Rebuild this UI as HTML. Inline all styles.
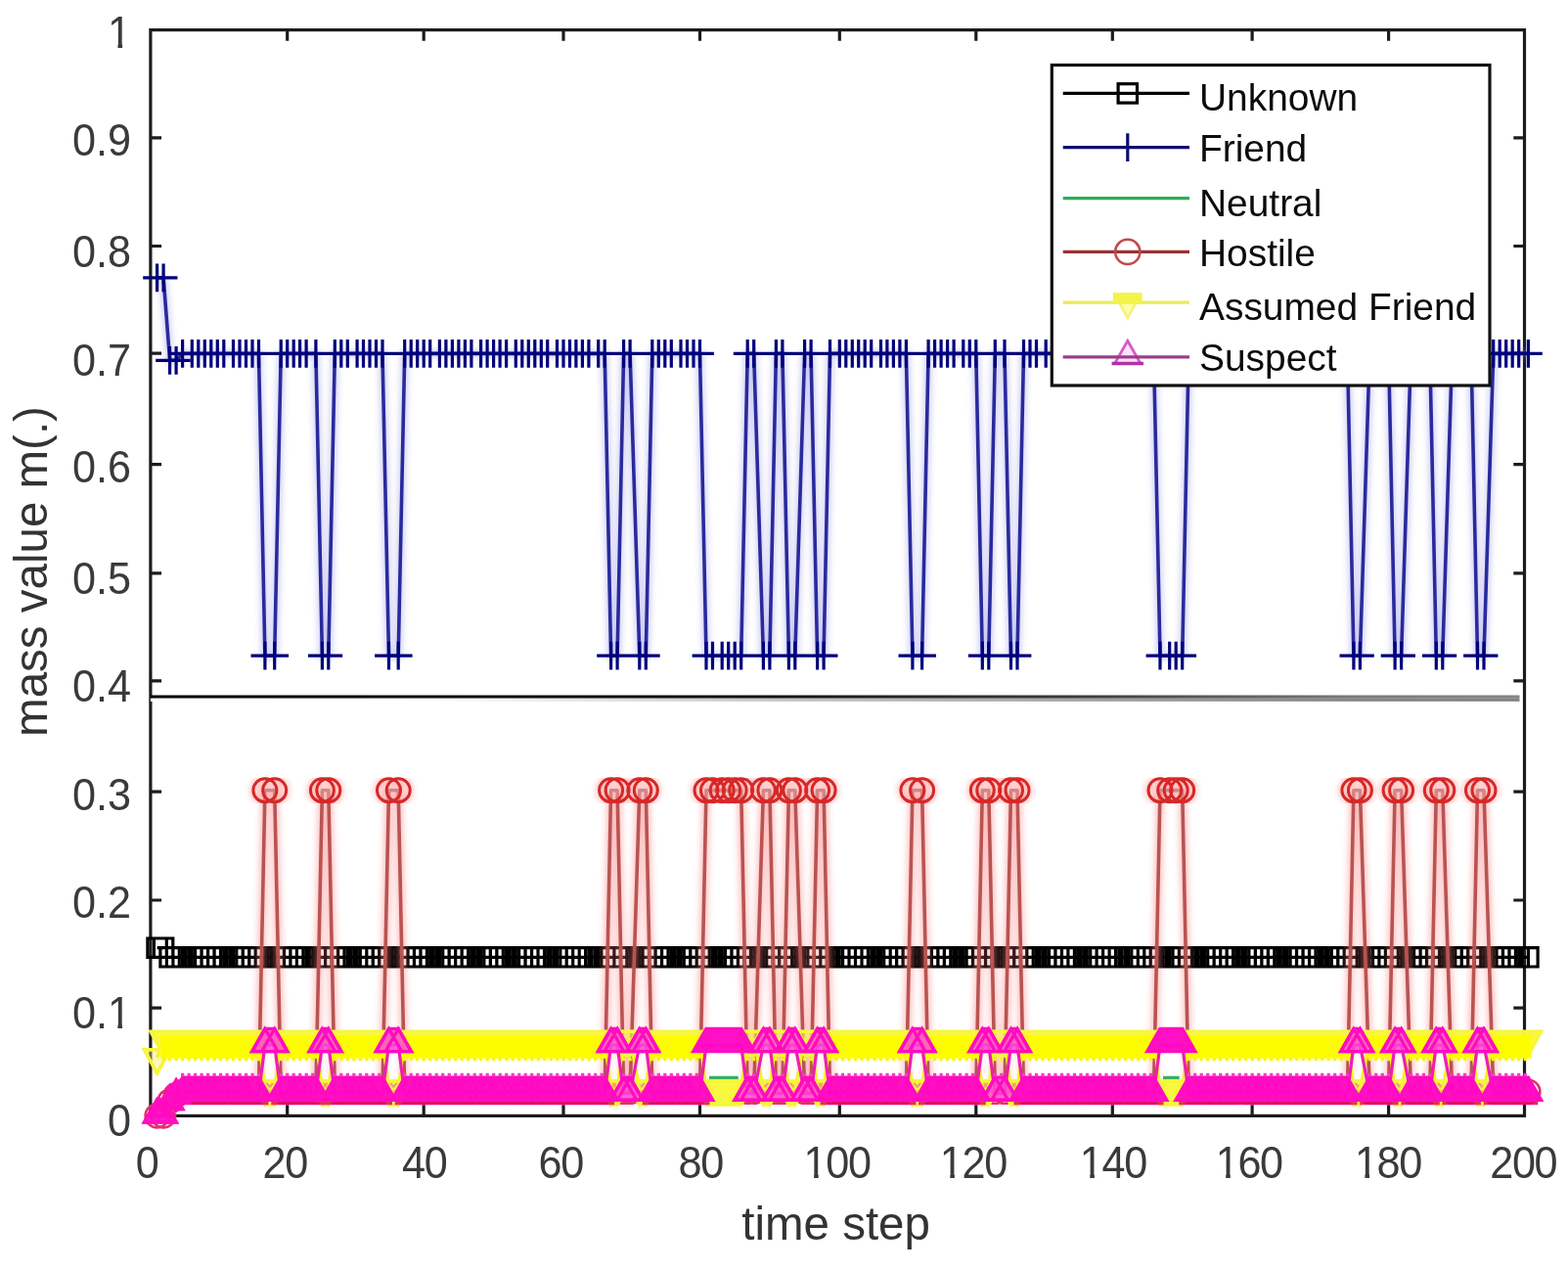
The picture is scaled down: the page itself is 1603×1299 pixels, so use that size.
<!DOCTYPE html>
<html lang="en"><head><meta charset="utf-8"><title>mass value m(.) vs time step</title>
<style>
html,body{margin:0;padding:0;background:#fff;}
body{width:1603px;height:1299px;overflow:hidden;}
svg{display:block;}
text{font-family:"Liberation Sans",Arial,Helvetica,sans-serif;}
.tk{font-size:43.2px;fill:#3a3a3a;}
.lb{font-size:47.5px;fill:#333;}
.lg{font-size:38.9px;fill:#0c0c0c;}
</style></head><body>
<svg width="1603" height="1299" viewBox="0 0 1603 1299">
<defs>
<filter id="halo" x="-2%" y="-2%" width="104%" height="104%"><feGaussianBlur stdDeviation="3"/></filter>
<linearGradient id="annA" gradientUnits="userSpaceOnUse" x1="154" y1="0" x2="1554" y2="0"><stop offset="0" stop-color="#050505"/><stop offset="0.45" stop-color="#141414"/><stop offset="0.68" stop-color="#3c3c3c"/><stop offset="0.88" stop-color="#7a7a7a"/><stop offset="1" stop-color="#858585"/></linearGradient>
<linearGradient id="annB" gradientUnits="userSpaceOnUse" x1="154" y1="0" x2="1554" y2="0"><stop offset="0" stop-color="#fff"/><stop offset="0.2" stop-color="#fff"/><stop offset="0.45" stop-color="#c8c8c8"/><stop offset="0.68" stop-color="#a4a4a4"/><stop offset="0.88" stop-color="#888"/><stop offset="1" stop-color="#858585"/></linearGradient>
</defs>
<rect width="1603" height="1299" fill="#fff"/>
<g>
<g stroke="#1c1c1c" stroke-width="3.2" fill="none" stroke-linecap="butt">
<rect x="153.9" y="30.6" width="1404.6" height="1109.8"/>
<path d="M293.7 1140.4v-11.2M293.7 30.6v11.2M433.2 1140.4v-11.2M433.2 30.6v11.2M576 1140.4v-11.2M576 30.6v11.2M715.5 1140.4v-11.2M715.5 30.6v11.2M858.3 1140.4v-11.2M858.3 30.6v11.2M997.8 1140.4v-11.2M997.8 30.6v11.2M1137.3 1140.4v-11.2M1137.3 30.6v11.2M1280.1 1140.4v-11.2M1280.1 30.6v11.2M1419.6 1140.4v-11.2M1419.6 30.6v11.2M153.9 140.8h11.2M1558.5 140.8h-11.2M153.9 251.5h11.2M1558.5 251.5h-11.2M153.9 361.2h11.2M1558.5 361.2h-11.2M153.9 474.7h11.2M1558.5 474.7h-11.2M153.9 585.8h11.2M1558.5 585.8h-11.2M153.9 695.9h11.2M1558.5 695.9h-11.2M153.9 809.2h11.2M1558.5 809.2h-11.2M153.9 920h11.2M1558.5 920h-11.2M153.9 1030.1h11.2M1558.5 1030.1h-11.2"/>
</g>
<g fill="none" stroke="#000" stroke-width="3.2">
<path d="M160.6 968.7H167.1M173.6 978.3H1562.4"/>
<path d="M150.9 959h19.4v19.4h-19.4zM157.4 959h19.4v19.4h-19.4zM163.9 968.6h19.4v19.4h-19.4zM170.4 968.6h19.4v19.4h-19.4zM176.9 968.6h19.4v19.4h-19.4zM186.6 968.6h19.4v19.4h-19.4zM193.1 968.6h19.4v19.4h-19.4zM199.6 968.6h19.4v19.4h-19.4zM206.1 968.6h19.4v19.4h-19.4zM212.6 968.6h19.4v19.4h-19.4zM219.1 968.6h19.4v19.4h-19.4zM228.8 968.6h19.4v19.4h-19.4zM235.3 968.6h19.4v19.4h-19.4zM241.8 968.6h19.4v19.4h-19.4zM248.3 968.6h19.4v19.4h-19.4zM254.8 968.6h19.4v19.4h-19.4zM261.2 968.6h19.4v19.4h-19.4zM271 968.6h19.4v19.4h-19.4zM277.5 968.6h19.4v19.4h-19.4zM284 968.6h19.4v19.4h-19.4zM290.5 968.6h19.4v19.4h-19.4zM296.9 968.6h19.4v19.4h-19.4zM303.4 968.6h19.4v19.4h-19.4zM313.2 968.6h19.4v19.4h-19.4zM319.7 968.6h19.4v19.4h-19.4zM326.1 968.6h19.4v19.4h-19.4zM332.6 968.6h19.4v19.4h-19.4zM339.1 968.6h19.4v19.4h-19.4zM345.6 968.6h19.4v19.4h-19.4zM355.4 968.6h19.4v19.4h-19.4zM361.8 968.6h19.4v19.4h-19.4zM368.3 968.6h19.4v19.4h-19.4zM374.8 968.6h19.4v19.4h-19.4zM381.3 968.6h19.4v19.4h-19.4zM387.8 968.6h19.4v19.4h-19.4zM397.5 968.6h19.4v19.4h-19.4zM404 968.6h19.4v19.4h-19.4zM410.5 968.6h19.4v19.4h-19.4zM417 968.6h19.4v19.4h-19.4zM423.5 968.6h19.4v19.4h-19.4zM430 968.6h19.4v19.4h-19.4zM439.7 968.6h19.4v19.4h-19.4zM446.2 968.6h19.4v19.4h-19.4zM452.7 968.6h19.4v19.4h-19.4zM459.2 968.6h19.4v19.4h-19.4zM465.7 968.6h19.4v19.4h-19.4zM472.2 968.6h19.4v19.4h-19.4zM481.9 968.6h19.4v19.4h-19.4zM488.4 968.6h19.4v19.4h-19.4zM494.9 968.6h19.4v19.4h-19.4zM501.4 968.6h19.4v19.4h-19.4zM507.9 968.6h19.4v19.4h-19.4zM517.6 968.6h19.4v19.4h-19.4zM524.1 968.6h19.4v19.4h-19.4zM530.6 968.6h19.4v19.4h-19.4zM537.1 968.6h19.4v19.4h-19.4zM543.6 968.6h19.4v19.4h-19.4zM550 968.6h19.4v19.4h-19.4zM559.8 968.6h19.4v19.4h-19.4zM566.3 968.6h19.4v19.4h-19.4zM572.8 968.6h19.4v19.4h-19.4zM579.2 968.6h19.4v19.4h-19.4zM585.7 968.6h19.4v19.4h-19.4zM592.2 968.6h19.4v19.4h-19.4zM602 968.6h19.4v19.4h-19.4zM608.5 968.6h19.4v19.4h-19.4zM614.9 968.6h19.4v19.4h-19.4zM621.4 968.6h19.4v19.4h-19.4zM627.9 968.6h19.4v19.4h-19.4zM634.4 968.6h19.4v19.4h-19.4zM644.1 968.6h19.4v19.4h-19.4zM650.6 968.6h19.4v19.4h-19.4zM657.1 968.6h19.4v19.4h-19.4zM663.6 968.6h19.4v19.4h-19.4zM670.1 968.6h19.4v19.4h-19.4zM676.6 968.6h19.4v19.4h-19.4zM686.3 968.6h19.4v19.4h-19.4zM692.8 968.6h19.4v19.4h-19.4zM699.3 968.6h19.4v19.4h-19.4zM705.8 968.6h19.4v19.4h-19.4zM712.3 968.6h19.4v19.4h-19.4zM718.8 968.6h19.4v19.4h-19.4zM728.5 968.6h19.4v19.4h-19.4zM735 968.6h19.4v19.4h-19.4zM741.5 968.6h19.4v19.4h-19.4zM748 968.6h19.4v19.4h-19.4zM754.5 968.6h19.4v19.4h-19.4zM761 968.6h19.4v19.4h-19.4zM770.7 968.6h19.4v19.4h-19.4zM777.2 968.6h19.4v19.4h-19.4zM783.7 968.6h19.4v19.4h-19.4zM790.2 968.6h19.4v19.4h-19.4zM796.7 968.6h19.4v19.4h-19.4zM803.1 968.6h19.4v19.4h-19.4zM812.9 968.6h19.4v19.4h-19.4zM819.4 968.6h19.4v19.4h-19.4zM825.9 968.6h19.4v19.4h-19.4zM832.4 968.6h19.4v19.4h-19.4zM838.8 968.6h19.4v19.4h-19.4zM848.6 968.6h19.4v19.4h-19.4zM855.1 968.6h19.4v19.4h-19.4zM861.6 968.6h19.4v19.4h-19.4zM868 968.6h19.4v19.4h-19.4zM874.5 968.6h19.4v19.4h-19.4zM881 968.6h19.4v19.4h-19.4zM890.8 968.6h19.4v19.4h-19.4zM897.2 968.6h19.4v19.4h-19.4zM903.7 968.6h19.4v19.4h-19.4zM910.2 968.6h19.4v19.4h-19.4zM916.7 968.6h19.4v19.4h-19.4zM923.2 968.6h19.4v19.4h-19.4zM932.9 968.6h19.4v19.4h-19.4zM939.4 968.6h19.4v19.4h-19.4zM945.9 968.6h19.4v19.4h-19.4zM952.4 968.6h19.4v19.4h-19.4zM958.9 968.6h19.4v19.4h-19.4zM965.4 968.6h19.4v19.4h-19.4zM975.1 968.6h19.4v19.4h-19.4zM981.6 968.6h19.4v19.4h-19.4zM988.1 968.6h19.4v19.4h-19.4zM994.6 968.6h19.4v19.4h-19.4zM1001.1 968.6h19.4v19.4h-19.4zM1007.6 968.6h19.4v19.4h-19.4zM1017.3 968.6h19.4v19.4h-19.4zM1023.8 968.6h19.4v19.4h-19.4zM1030.3 968.6h19.4v19.4h-19.4zM1036.8 968.6h19.4v19.4h-19.4zM1043.3 968.6h19.4v19.4h-19.4zM1049.8 968.6h19.4v19.4h-19.4zM1059.5 968.6h19.4v19.4h-19.4zM1066 968.6h19.4v19.4h-19.4zM1072.5 968.6h19.4v19.4h-19.4zM1079 968.6h19.4v19.4h-19.4zM1085.5 968.6h19.4v19.4h-19.4zM1091.9 968.6h19.4v19.4h-19.4zM1101.7 968.6h19.4v19.4h-19.4zM1108.2 968.6h19.4v19.4h-19.4zM1114.7 968.6h19.4v19.4h-19.4zM1121.1 968.6h19.4v19.4h-19.4zM1127.6 968.6h19.4v19.4h-19.4zM1134.1 968.6h19.4v19.4h-19.4zM1143.9 968.6h19.4v19.4h-19.4zM1150.4 968.6h19.4v19.4h-19.4zM1156.8 968.6h19.4v19.4h-19.4zM1163.3 968.6h19.4v19.4h-19.4zM1169.8 968.6h19.4v19.4h-19.4zM1176.3 968.6h19.4v19.4h-19.4zM1186 968.6h19.4v19.4h-19.4zM1192.5 968.6h19.4v19.4h-19.4zM1199 968.6h19.4v19.4h-19.4zM1205.5 968.6h19.4v19.4h-19.4zM1212 968.6h19.4v19.4h-19.4zM1221.7 968.6h19.4v19.4h-19.4zM1228.2 968.6h19.4v19.4h-19.4zM1234.7 968.6h19.4v19.4h-19.4zM1241.2 968.6h19.4v19.4h-19.4zM1247.7 968.6h19.4v19.4h-19.4zM1254.2 968.6h19.4v19.4h-19.4zM1263.9 968.6h19.4v19.4h-19.4zM1270.4 968.6h19.4v19.4h-19.4zM1276.9 968.6h19.4v19.4h-19.4zM1283.4 968.6h19.4v19.4h-19.4zM1289.9 968.6h19.4v19.4h-19.4zM1296.4 968.6h19.4v19.4h-19.4zM1306.1 968.6h19.4v19.4h-19.4zM1312.6 968.6h19.4v19.4h-19.4zM1319.1 968.6h19.4v19.4h-19.4zM1325.6 968.6h19.4v19.4h-19.4zM1332.1 968.6h19.4v19.4h-19.4zM1338.6 968.6h19.4v19.4h-19.4zM1348.3 968.6h19.4v19.4h-19.4zM1354.8 968.6h19.4v19.4h-19.4zM1361.3 968.6h19.4v19.4h-19.4zM1367.8 968.6h19.4v19.4h-19.4zM1374.2 968.6h19.4v19.4h-19.4zM1380.7 968.6h19.4v19.4h-19.4zM1390.5 968.6h19.4v19.4h-19.4zM1397 968.6h19.4v19.4h-19.4zM1403.5 968.6h19.4v19.4h-19.4zM1409.9 968.6h19.4v19.4h-19.4zM1416.4 968.6h19.4v19.4h-19.4zM1422.9 968.6h19.4v19.4h-19.4zM1432.7 968.6h19.4v19.4h-19.4zM1439.1 968.6h19.4v19.4h-19.4zM1445.6 968.6h19.4v19.4h-19.4zM1452.1 968.6h19.4v19.4h-19.4zM1458.6 968.6h19.4v19.4h-19.4zM1465.1 968.6h19.4v19.4h-19.4zM1474.8 968.6h19.4v19.4h-19.4zM1481.3 968.6h19.4v19.4h-19.4zM1487.8 968.6h19.4v19.4h-19.4zM1494.3 968.6h19.4v19.4h-19.4zM1500.8 968.6h19.4v19.4h-19.4zM1507.3 968.6h19.4v19.4h-19.4zM1517 968.6h19.4v19.4h-19.4zM1523.5 968.6h19.4v19.4h-19.4zM1530 968.6h19.4v19.4h-19.4zM1536.5 968.6h19.4v19.4h-19.4zM1543 968.6h19.4v19.4h-19.4zM1552.7 968.6h19.4v19.4h-19.4z"/>
</g>
<g fill="none">
<polyline points="160.6,283.9 167.1,283.9 173.6,368.3 180.1,368.3 186.6,361.4 196.3,361.4 202.8,361.4 209.3,361.4 215.8,361.4 222.3,361.4 228.8,361.4 238.5,361.4 245,361.4 251.5,361.4 258,361.4 264.5,361.4 270.9,670.2 280.7,670.2 287.2,361.4 293.7,361.4 300.2,361.4 306.6,361.4 313.1,361.4 322.9,361.4 329.4,670.2 335.8,670.2 342.3,361.4 348.8,361.4 355.3,361.4 365.1,361.4 371.5,361.4 378,361.4 384.5,361.4 391,361.4 397.5,670.2 407.2,670.2 413.7,361.4 420.2,361.4 426.7,361.4 433.2,361.4 439.7,361.4 449.4,361.4 455.9,361.4 462.4,361.4 468.9,361.4 475.4,361.4 481.9,361.4 491.6,361.4 498.1,361.4 504.6,361.4 511.1,361.4 517.6,361.4 527.3,361.4 533.8,361.4 540.3,361.4 546.8,361.4 553.3,361.4 559.7,361.4 569.5,361.4 576,361.4 582.5,361.4 588.9,361.4 595.4,361.4 601.9,361.4 611.7,361.4 618.2,361.4 624.6,670.2 631.1,670.2 637.6,361.4 644.1,361.4 653.8,670.2 660.3,670.2 666.8,361.4 673.3,361.4 679.8,361.4 686.3,361.4 696,361.4 702.5,361.4 709,361.4 715.5,361.4 722,670.2 728.5,670.2 738.2,670.2 744.7,670.2 751.2,670.2 757.7,670.2 764.2,361.4 770.7,361.4 780.4,670.2 786.9,670.2 793.4,361.4 799.9,361.4 806.4,670.2 812.8,670.2 822.6,361.4 829.1,361.4 835.6,670.2 842.1,670.2 848.5,361.4 858.3,361.4 864.8,361.4 871.3,361.4 877.7,361.4 884.2,361.4 890.7,361.4 900.5,361.4 906.9,361.4 913.4,361.4 919.9,361.4 926.4,361.4 932.9,670.2 942.6,670.2 949.1,361.4 955.6,361.4 962.1,361.4 968.6,361.4 975.1,361.4 984.8,361.4 991.3,361.4 997.8,361.4 1004.3,670.2 1010.8,670.2 1017.3,361.4 1027,361.4 1033.5,670.2 1040,670.2 1046.5,361.4 1053,361.4 1059.5,361.4 1069.2,361.4 1075.7,361.4 1082.2,361.4 1088.7,361.4 1095.2,361.4 1101.6,361.4 1111.4,361.4 1117.9,361.4 1124.4,361.4 1130.8,361.4 1137.3,361.4 1143.8,361.4 1153.6,361.4 1160.1,361.4 1166.5,361.4 1173,361.4 1179.5,361.4 1186,670.2 1195.7,670.2 1202.2,670.2 1208.7,670.2 1215.2,361.4 1221.7,361.4 1231.4,361.4 1237.9,361.4 1244.4,361.4 1250.9,361.4 1257.4,361.4 1263.9,361.4 1273.6,361.4 1280.1,361.4 1286.6,361.4 1293.1,361.4 1299.6,361.4 1306.1,361.4 1315.8,361.4 1322.3,361.4 1328.8,361.4 1335.3,361.4 1341.8,361.4 1348.3,361.4 1358,361.4 1364.5,361.4 1371,361.4 1377.5,361.4 1383.9,670.2 1390.4,670.2 1400.2,361.4 1406.7,361.4 1413.2,361.4 1419.6,361.4 1426.1,670.2 1432.6,670.2 1442.4,361.4 1448.8,361.4 1455.3,361.4 1461.8,361.4 1468.3,670.2 1474.8,670.2 1484.5,361.4 1491,361.4 1497.5,361.4 1504,361.4 1510.5,670.2 1517,670.2 1526.7,361.4 1533.2,361.4 1539.7,361.4 1546.2,361.4 1552.7,361.4 1562.4,361.4" stroke="#8a8ae6" stroke-width="7" opacity="0.45" filter="url(#halo)"/>
<polyline points="160.6,283.9 167.1,283.9 173.6,368.3 180.1,368.3 186.6,361.4 196.3,361.4 202.8,361.4 209.3,361.4 215.8,361.4 222.3,361.4 228.8,361.4 238.5,361.4 245,361.4 251.5,361.4 258,361.4 264.5,361.4 270.9,670.2 280.7,670.2 287.2,361.4 293.7,361.4 300.2,361.4 306.6,361.4 313.1,361.4 322.9,361.4 329.4,670.2 335.8,670.2 342.3,361.4 348.8,361.4 355.3,361.4 365.1,361.4 371.5,361.4 378,361.4 384.5,361.4 391,361.4 397.5,670.2 407.2,670.2 413.7,361.4 420.2,361.4 426.7,361.4 433.2,361.4 439.7,361.4 449.4,361.4 455.9,361.4 462.4,361.4 468.9,361.4 475.4,361.4 481.9,361.4 491.6,361.4 498.1,361.4 504.6,361.4 511.1,361.4 517.6,361.4 527.3,361.4 533.8,361.4 540.3,361.4 546.8,361.4 553.3,361.4 559.7,361.4 569.5,361.4 576,361.4 582.5,361.4 588.9,361.4 595.4,361.4 601.9,361.4 611.7,361.4 618.2,361.4 624.6,670.2 631.1,670.2 637.6,361.4 644.1,361.4 653.8,670.2 660.3,670.2 666.8,361.4 673.3,361.4 679.8,361.4 686.3,361.4 696,361.4 702.5,361.4 709,361.4 715.5,361.4 722,670.2 728.5,670.2 738.2,670.2 744.7,670.2 751.2,670.2 757.7,670.2 764.2,361.4 770.7,361.4 780.4,670.2 786.9,670.2 793.4,361.4 799.9,361.4 806.4,670.2 812.8,670.2 822.6,361.4 829.1,361.4 835.6,670.2 842.1,670.2 848.5,361.4 858.3,361.4 864.8,361.4 871.3,361.4 877.7,361.4 884.2,361.4 890.7,361.4 900.5,361.4 906.9,361.4 913.4,361.4 919.9,361.4 926.4,361.4 932.9,670.2 942.6,670.2 949.1,361.4 955.6,361.4 962.1,361.4 968.6,361.4 975.1,361.4 984.8,361.4 991.3,361.4 997.8,361.4 1004.3,670.2 1010.8,670.2 1017.3,361.4 1027,361.4 1033.5,670.2 1040,670.2 1046.5,361.4 1053,361.4 1059.5,361.4 1069.2,361.4 1075.7,361.4 1082.2,361.4 1088.7,361.4 1095.2,361.4 1101.6,361.4 1111.4,361.4 1117.9,361.4 1124.4,361.4 1130.8,361.4 1137.3,361.4 1143.8,361.4 1153.6,361.4 1160.1,361.4 1166.5,361.4 1173,361.4 1179.5,361.4 1186,670.2 1195.7,670.2 1202.2,670.2 1208.7,670.2 1215.2,361.4 1221.7,361.4 1231.4,361.4 1237.9,361.4 1244.4,361.4 1250.9,361.4 1257.4,361.4 1263.9,361.4 1273.6,361.4 1280.1,361.4 1286.6,361.4 1293.1,361.4 1299.6,361.4 1306.1,361.4 1315.8,361.4 1322.3,361.4 1328.8,361.4 1335.3,361.4 1341.8,361.4 1348.3,361.4 1358,361.4 1364.5,361.4 1371,361.4 1377.5,361.4 1383.9,670.2 1390.4,670.2 1400.2,361.4 1406.7,361.4 1413.2,361.4 1419.6,361.4 1426.1,670.2 1432.6,670.2 1442.4,361.4 1448.8,361.4 1455.3,361.4 1461.8,361.4 1468.3,670.2 1474.8,670.2 1484.5,361.4 1491,361.4 1497.5,361.4 1504,361.4 1510.5,670.2 1517,670.2 1526.7,361.4 1533.2,361.4 1539.7,361.4 1546.2,361.4 1552.7,361.4 1562.4,361.4" stroke="#2a2a9c" stroke-width="3.6" stroke-linejoin="round"/>
<path d="M146.2 283.9h28.8M160.6 269.5v28.8M152.7 283.9h28.8M167.1 269.5v28.8M159.2 368.3h28.8M173.6 353.9v28.8M165.7 368.3h28.8M180.1 353.9v28.8M172.2 361.4h28.8M186.6 347v28.8M181.9 361.4h28.8M196.3 347v28.8M188.4 361.4h28.8M202.8 347v28.8M194.9 361.4h28.8M209.3 347v28.8M201.4 361.4h28.8M215.8 347v28.8M207.9 361.4h28.8M222.3 347v28.8M214.4 361.4h28.8M228.8 347v28.8M224.1 361.4h28.8M238.5 347v28.8M230.6 361.4h28.8M245 347v28.8M237.1 361.4h28.8M251.5 347v28.8M243.6 361.4h28.8M258 347v28.8M250.1 361.4h28.8M264.5 347v28.8M256.5 670.2h28.8M270.9 655.8v28.8M266.3 670.2h28.8M280.7 655.8v28.8M272.8 361.4h28.8M287.2 347v28.8M279.3 361.4h28.8M293.7 347v28.8M285.8 361.4h28.8M300.2 347v28.8M292.2 361.4h28.8M306.6 347v28.8M298.7 361.4h28.8M313.1 347v28.8M308.5 361.4h28.8M322.9 347v28.8M315 670.2h28.8M329.4 655.8v28.8M321.4 670.2h28.8M335.8 655.8v28.8M327.9 361.4h28.8M342.3 347v28.8M334.4 361.4h28.8M348.8 347v28.8M340.9 361.4h28.8M355.3 347v28.8M350.7 361.4h28.8M365.1 347v28.8M357.1 361.4h28.8M371.5 347v28.8M363.6 361.4h28.8M378 347v28.8M370.1 361.4h28.8M384.5 347v28.8M376.6 361.4h28.8M391 347v28.8M383.1 670.2h28.8M397.5 655.8v28.8M392.8 670.2h28.8M407.2 655.8v28.8M399.3 361.4h28.8M413.7 347v28.8M405.8 361.4h28.8M420.2 347v28.8M412.3 361.4h28.8M426.7 347v28.8M418.8 361.4h28.8M433.2 347v28.8M425.3 361.4h28.8M439.7 347v28.8M435 361.4h28.8M449.4 347v28.8M441.5 361.4h28.8M455.9 347v28.8M448 361.4h28.8M462.4 347v28.8M454.5 361.4h28.8M468.9 347v28.8M461 361.4h28.8M475.4 347v28.8M467.5 361.4h28.8M481.9 347v28.8M477.2 361.4h28.8M491.6 347v28.8M483.7 361.4h28.8M498.1 347v28.8M490.2 361.4h28.8M504.6 347v28.8M496.7 361.4h28.8M511.1 347v28.8M503.2 361.4h28.8M517.6 347v28.8M512.9 361.4h28.8M527.3 347v28.8M519.4 361.4h28.8M533.8 347v28.8M525.9 361.4h28.8M540.3 347v28.8M532.4 361.4h28.8M546.8 347v28.8M538.9 361.4h28.8M553.3 347v28.8M545.3 361.4h28.8M559.7 347v28.8M555.1 361.4h28.8M569.5 347v28.8M561.6 361.4h28.8M576 347v28.8M568.1 361.4h28.8M582.5 347v28.8M574.5 361.4h28.8M588.9 347v28.8M581 361.4h28.8M595.4 347v28.8M587.5 361.4h28.8M601.9 347v28.8M597.3 361.4h28.8M611.7 347v28.8M603.8 361.4h28.8M618.2 347v28.8M610.2 670.2h28.8M624.6 655.8v28.8M616.7 670.2h28.8M631.1 655.8v28.8M623.2 361.4h28.8M637.6 347v28.8M629.7 361.4h28.8M644.1 347v28.8M639.4 670.2h28.8M653.8 655.8v28.8M645.9 670.2h28.8M660.3 655.8v28.8M652.4 361.4h28.8M666.8 347v28.8M658.9 361.4h28.8M673.3 347v28.8M665.4 361.4h28.8M679.8 347v28.8M671.9 361.4h28.8M686.3 347v28.8M681.6 361.4h28.8M696 347v28.8M688.1 361.4h28.8M702.5 347v28.8M694.6 361.4h28.8M709 347v28.8M701.1 361.4h28.8M715.5 347v28.8M707.6 670.2h28.8M722 655.8v28.8M714.1 670.2h28.8M728.5 655.8v28.8M723.8 670.2h28.8M738.2 655.8v28.8M730.3 670.2h28.8M744.7 655.8v28.8M736.8 670.2h28.8M751.2 655.8v28.8M743.3 670.2h28.8M757.7 655.8v28.8M749.8 361.4h28.8M764.2 347v28.8M756.3 361.4h28.8M770.7 347v28.8M766 670.2h28.8M780.4 655.8v28.8M772.5 670.2h28.8M786.9 655.8v28.8M779 361.4h28.8M793.4 347v28.8M785.5 361.4h28.8M799.9 347v28.8M792 670.2h28.8M806.4 655.8v28.8M798.4 670.2h28.8M812.8 655.8v28.8M808.2 361.4h28.8M822.6 347v28.8M814.7 361.4h28.8M829.1 347v28.8M821.2 670.2h28.8M835.6 655.8v28.8M827.7 670.2h28.8M842.1 655.8v28.8M834.1 361.4h28.8M848.5 347v28.8M843.9 361.4h28.8M858.3 347v28.8M850.4 361.4h28.8M864.8 347v28.8M856.9 361.4h28.8M871.3 347v28.8M863.3 361.4h28.8M877.7 347v28.8M869.8 361.4h28.8M884.2 347v28.8M876.3 361.4h28.8M890.7 347v28.8M886.1 361.4h28.8M900.5 347v28.8M892.5 361.4h28.8M906.9 347v28.8M899 361.4h28.8M913.4 347v28.8M905.5 361.4h28.8M919.9 347v28.8M912 361.4h28.8M926.4 347v28.8M918.5 670.2h28.8M932.9 655.8v28.8M928.2 670.2h28.8M942.6 655.8v28.8M934.7 361.4h28.8M949.1 347v28.8M941.2 361.4h28.8M955.6 347v28.8M947.7 361.4h28.8M962.1 347v28.8M954.2 361.4h28.8M968.6 347v28.8M960.7 361.4h28.8M975.1 347v28.8M970.4 361.4h28.8M984.8 347v28.8M976.9 361.4h28.8M991.3 347v28.8M983.4 361.4h28.8M997.8 347v28.8M989.9 670.2h28.8M1004.3 655.8v28.8M996.4 670.2h28.8M1010.8 655.8v28.8M1002.9 361.4h28.8M1017.3 347v28.8M1012.6 361.4h28.8M1027 347v28.8M1019.1 670.2h28.8M1033.5 655.8v28.8M1025.6 670.2h28.8M1040 655.8v28.8M1032.1 361.4h28.8M1046.5 347v28.8M1038.6 361.4h28.8M1053 347v28.8M1045.1 361.4h28.8M1059.5 347v28.8M1054.8 361.4h28.8M1069.2 347v28.8M1061.3 361.4h28.8M1075.7 347v28.8M1067.8 361.4h28.8M1082.2 347v28.8M1074.3 361.4h28.8M1088.7 347v28.8M1080.8 361.4h28.8M1095.2 347v28.8M1087.2 361.4h28.8M1101.6 347v28.8M1097 361.4h28.8M1111.4 347v28.8M1103.5 361.4h28.8M1117.9 347v28.8M1110 361.4h28.8M1124.4 347v28.8M1116.4 361.4h28.8M1130.8 347v28.8M1122.9 361.4h28.8M1137.3 347v28.8M1129.4 361.4h28.8M1143.8 347v28.8M1139.2 361.4h28.8M1153.6 347v28.8M1145.7 361.4h28.8M1160.1 347v28.8M1152.1 361.4h28.8M1166.5 347v28.8M1158.6 361.4h28.8M1173 347v28.8M1165.1 361.4h28.8M1179.5 347v28.8M1171.6 670.2h28.8M1186 655.8v28.8M1181.3 670.2h28.8M1195.7 655.8v28.8M1187.8 670.2h28.8M1202.2 655.8v28.8M1194.3 670.2h28.8M1208.7 655.8v28.8M1200.8 361.4h28.8M1215.2 347v28.8M1207.3 361.4h28.8M1221.7 347v28.8M1217 361.4h28.8M1231.4 347v28.8M1223.5 361.4h28.8M1237.9 347v28.8M1230 361.4h28.8M1244.4 347v28.8M1236.5 361.4h28.8M1250.9 347v28.8M1243 361.4h28.8M1257.4 347v28.8M1249.5 361.4h28.8M1263.9 347v28.8M1259.2 361.4h28.8M1273.6 347v28.8M1265.7 361.4h28.8M1280.1 347v28.8M1272.2 361.4h28.8M1286.6 347v28.8M1278.7 361.4h28.8M1293.1 347v28.8M1285.2 361.4h28.8M1299.6 347v28.8M1291.7 361.4h28.8M1306.1 347v28.8M1301.4 361.4h28.8M1315.8 347v28.8M1307.9 361.4h28.8M1322.3 347v28.8M1314.4 361.4h28.8M1328.8 347v28.8M1320.9 361.4h28.8M1335.3 347v28.8M1327.4 361.4h28.8M1341.8 347v28.8M1333.9 361.4h28.8M1348.3 347v28.8M1343.6 361.4h28.8M1358 347v28.8M1350.1 361.4h28.8M1364.5 347v28.8M1356.6 361.4h28.8M1371 347v28.8M1363.1 361.4h28.8M1377.5 347v28.8M1369.5 670.2h28.8M1383.9 655.8v28.8M1376 670.2h28.8M1390.4 655.8v28.8M1385.8 361.4h28.8M1400.2 347v28.8M1392.3 361.4h28.8M1406.7 347v28.8M1398.8 361.4h28.8M1413.2 347v28.8M1405.2 361.4h28.8M1419.6 347v28.8M1411.7 670.2h28.8M1426.1 655.8v28.8M1418.2 670.2h28.8M1432.6 655.8v28.8M1428 361.4h28.8M1442.4 347v28.8M1434.4 361.4h28.8M1448.8 347v28.8M1440.9 361.4h28.8M1455.3 347v28.8M1447.4 361.4h28.8M1461.8 347v28.8M1453.9 670.2h28.8M1468.3 655.8v28.8M1460.4 670.2h28.8M1474.8 655.8v28.8M1470.1 361.4h28.8M1484.5 347v28.8M1476.6 361.4h28.8M1491 347v28.8M1483.1 361.4h28.8M1497.5 347v28.8M1489.6 361.4h28.8M1504 347v28.8M1496.1 670.2h28.8M1510.5 655.8v28.8M1502.6 670.2h28.8M1517 655.8v28.8M1512.3 361.4h28.8M1526.7 347v28.8M1518.8 361.4h28.8M1533.2 347v28.8M1525.3 361.4h28.8M1539.7 347v28.8M1531.8 361.4h28.8M1546.2 347v28.8M1538.3 361.4h28.8M1552.7 347v28.8M1548 361.4h28.8M1562.4 347v28.8" stroke="#00007c" stroke-width="3.2"/>
</g>
<path d="M725 1101.4H754.7M1189 1101.4H1205.7" fill="none" stroke="#8af0a8" stroke-width="9" opacity="0.6" filter="url(#halo)" transform="translate(0 -2)"/>
<path d="M725 1101.4H754.7M1189 1101.4H1205.7" fill="none" stroke="#35b25c" stroke-width="3.2"/>
<g fill="none">
<polyline points="160.6,1140.4 167.1,1140.4 173.6,1125.5 180.1,1119 186.6,1115.8 196.3,1115.8 202.8,1115.8 209.3,1115.8 215.8,1115.8 222.3,1115.8 228.8,1115.8 238.5,1115.8 245,1115.8 251.5,1115.8 258,1115.8 264.5,1115.8 270.9,807.7 280.7,807.7 287.2,1115.8 293.7,1115.8 300.2,1115.8 306.6,1115.8 313.1,1115.8 322.9,1115.8 329.4,807.7 335.8,807.7 342.3,1115.8 348.8,1115.8 355.3,1115.8 365.1,1115.8 371.5,1115.8 378,1115.8 384.5,1115.8 391,1115.8 397.5,807.7 407.2,807.7 413.7,1115.8 420.2,1115.8 426.7,1115.8 433.2,1115.8 439.7,1115.8 449.4,1115.8 455.9,1115.8 462.4,1115.8 468.9,1115.8 475.4,1115.8 481.9,1115.8 491.6,1115.8 498.1,1115.8 504.6,1115.8 511.1,1115.8 517.6,1115.8 527.3,1115.8 533.8,1115.8 540.3,1115.8 546.8,1115.8 553.3,1115.8 559.7,1115.8 569.5,1115.8 576,1115.8 582.5,1115.8 588.9,1115.8 595.4,1115.8 601.9,1115.8 611.7,1115.8 618.2,1115.8 624.6,807.7 631.1,807.7 637.6,1115.8 644.1,1115.8 653.8,807.7 660.3,807.7 666.8,1115.8 673.3,1115.8 679.8,1115.8 686.3,1115.8 696,1115.8 702.5,1115.8 709,1115.8 715.5,1115.8 722,807.7 728.5,807.7 738.2,807.7 744.7,807.7 751.2,807.7 757.7,807.7 764.2,1115.8 770.7,1115.8 780.4,807.7 786.9,807.7 793.4,1115.8 799.9,1115.8 806.4,807.7 812.8,807.7 822.6,1115.8 829.1,1115.8 835.6,807.7 842.1,807.7 848.5,1115.8 858.3,1115.8 864.8,1115.8 871.3,1115.8 877.7,1115.8 884.2,1115.8 890.7,1115.8 900.5,1115.8 906.9,1115.8 913.4,1115.8 919.9,1115.8 926.4,1115.8 932.9,807.7 942.6,807.7 949.1,1115.8 955.6,1115.8 962.1,1115.8 968.6,1115.8 975.1,1115.8 984.8,1115.8 991.3,1115.8 997.8,1115.8 1004.3,807.7 1010.8,807.7 1017.3,1115.8 1027,1115.8 1033.5,807.7 1040,807.7 1046.5,1115.8 1053,1115.8 1059.5,1115.8 1069.2,1115.8 1075.7,1115.8 1082.2,1115.8 1088.7,1115.8 1095.2,1115.8 1101.6,1115.8 1111.4,1115.8 1117.9,1115.8 1124.4,1115.8 1130.8,1115.8 1137.3,1115.8 1143.8,1115.8 1153.6,1115.8 1160.1,1115.8 1166.5,1115.8 1173,1115.8 1179.5,1115.8 1186,807.7 1195.7,807.7 1202.2,807.7 1208.7,807.7 1215.2,1115.8 1221.7,1115.8 1231.4,1115.8 1237.9,1115.8 1244.4,1115.8 1250.9,1115.8 1257.4,1115.8 1263.9,1115.8 1273.6,1115.8 1280.1,1115.8 1286.6,1115.8 1293.1,1115.8 1299.6,1115.8 1306.1,1115.8 1315.8,1115.8 1322.3,1115.8 1328.8,1115.8 1335.3,1115.8 1341.8,1115.8 1348.3,1115.8 1358,1115.8 1364.5,1115.8 1371,1115.8 1377.5,1115.8 1383.9,807.7 1390.4,807.7 1400.2,1115.8 1406.7,1115.8 1413.2,1115.8 1419.6,1115.8 1426.1,807.7 1432.6,807.7 1442.4,1115.8 1448.8,1115.8 1455.3,1115.8 1461.8,1115.8 1468.3,807.7 1474.8,807.7 1484.5,1115.8 1491,1115.8 1497.5,1115.8 1504,1115.8 1510.5,807.7 1517,807.7 1526.7,1115.8 1533.2,1115.8 1539.7,1115.8 1546.2,1115.8 1552.7,1115.8 1562.4,1115.8" stroke="#ff8080" stroke-width="8" opacity="0.5" filter="url(#halo)"/>
<path d="M258.9 807.7a12 12 0 1 0 24 0a12 12 0 1 0 -24 0zM268.7 807.7a12 12 0 1 0 24 0a12 12 0 1 0 -24 0zM317.4 807.7a12 12 0 1 0 24 0a12 12 0 1 0 -24 0zM323.8 807.7a12 12 0 1 0 24 0a12 12 0 1 0 -24 0zM385.5 807.7a12 12 0 1 0 24 0a12 12 0 1 0 -24 0zM395.2 807.7a12 12 0 1 0 24 0a12 12 0 1 0 -24 0zM612.6 807.7a12 12 0 1 0 24 0a12 12 0 1 0 -24 0zM619.1 807.7a12 12 0 1 0 24 0a12 12 0 1 0 -24 0zM641.8 807.7a12 12 0 1 0 24 0a12 12 0 1 0 -24 0zM648.3 807.7a12 12 0 1 0 24 0a12 12 0 1 0 -24 0zM710 807.7a12 12 0 1 0 24 0a12 12 0 1 0 -24 0zM716.5 807.7a12 12 0 1 0 24 0a12 12 0 1 0 -24 0zM726.2 807.7a12 12 0 1 0 24 0a12 12 0 1 0 -24 0zM732.7 807.7a12 12 0 1 0 24 0a12 12 0 1 0 -24 0zM739.2 807.7a12 12 0 1 0 24 0a12 12 0 1 0 -24 0zM745.7 807.7a12 12 0 1 0 24 0a12 12 0 1 0 -24 0zM768.4 807.7a12 12 0 1 0 24 0a12 12 0 1 0 -24 0zM774.9 807.7a12 12 0 1 0 24 0a12 12 0 1 0 -24 0zM794.4 807.7a12 12 0 1 0 24 0a12 12 0 1 0 -24 0zM800.8 807.7a12 12 0 1 0 24 0a12 12 0 1 0 -24 0zM823.6 807.7a12 12 0 1 0 24 0a12 12 0 1 0 -24 0zM830.1 807.7a12 12 0 1 0 24 0a12 12 0 1 0 -24 0zM920.9 807.7a12 12 0 1 0 24 0a12 12 0 1 0 -24 0zM930.6 807.7a12 12 0 1 0 24 0a12 12 0 1 0 -24 0zM992.3 807.7a12 12 0 1 0 24 0a12 12 0 1 0 -24 0zM998.8 807.7a12 12 0 1 0 24 0a12 12 0 1 0 -24 0zM1021.5 807.7a12 12 0 1 0 24 0a12 12 0 1 0 -24 0zM1028 807.7a12 12 0 1 0 24 0a12 12 0 1 0 -24 0zM1174 807.7a12 12 0 1 0 24 0a12 12 0 1 0 -24 0zM1183.7 807.7a12 12 0 1 0 24 0a12 12 0 1 0 -24 0zM1190.2 807.7a12 12 0 1 0 24 0a12 12 0 1 0 -24 0zM1196.7 807.7a12 12 0 1 0 24 0a12 12 0 1 0 -24 0zM1371.9 807.7a12 12 0 1 0 24 0a12 12 0 1 0 -24 0zM1378.4 807.7a12 12 0 1 0 24 0a12 12 0 1 0 -24 0zM1414.1 807.7a12 12 0 1 0 24 0a12 12 0 1 0 -24 0zM1420.6 807.7a12 12 0 1 0 24 0a12 12 0 1 0 -24 0zM1456.3 807.7a12 12 0 1 0 24 0a12 12 0 1 0 -24 0zM1462.8 807.7a12 12 0 1 0 24 0a12 12 0 1 0 -24 0zM1498.5 807.7a12 12 0 1 0 24 0a12 12 0 1 0 -24 0zM1505 807.7a12 12 0 1 0 24 0a12 12 0 1 0 -24 0z" stroke="#ff7a7a" stroke-width="6" opacity="0.5" filter="url(#halo)"/>
<polyline points="160.6,1140.4 167.1,1140.4 173.6,1125.5 180.1,1119 186.6,1115.8 196.3,1115.8 202.8,1115.8 209.3,1115.8 215.8,1115.8 222.3,1115.8 228.8,1115.8 238.5,1115.8 245,1115.8 251.5,1115.8 258,1115.8 264.5,1115.8 270.9,807.7 280.7,807.7 287.2,1115.8 293.7,1115.8 300.2,1115.8 306.6,1115.8 313.1,1115.8 322.9,1115.8 329.4,807.7 335.8,807.7 342.3,1115.8 348.8,1115.8 355.3,1115.8 365.1,1115.8 371.5,1115.8 378,1115.8 384.5,1115.8 391,1115.8 397.5,807.7 407.2,807.7 413.7,1115.8 420.2,1115.8 426.7,1115.8 433.2,1115.8 439.7,1115.8 449.4,1115.8 455.9,1115.8 462.4,1115.8 468.9,1115.8 475.4,1115.8 481.9,1115.8 491.6,1115.8 498.1,1115.8 504.6,1115.8 511.1,1115.8 517.6,1115.8 527.3,1115.8 533.8,1115.8 540.3,1115.8 546.8,1115.8 553.3,1115.8 559.7,1115.8 569.5,1115.8 576,1115.8 582.5,1115.8 588.9,1115.8 595.4,1115.8 601.9,1115.8 611.7,1115.8 618.2,1115.8 624.6,807.7 631.1,807.7 637.6,1115.8 644.1,1115.8 653.8,807.7 660.3,807.7 666.8,1115.8 673.3,1115.8 679.8,1115.8 686.3,1115.8 696,1115.8 702.5,1115.8 709,1115.8 715.5,1115.8 722,807.7 728.5,807.7 738.2,807.7 744.7,807.7 751.2,807.7 757.7,807.7 764.2,1115.8 770.7,1115.8 780.4,807.7 786.9,807.7 793.4,1115.8 799.9,1115.8 806.4,807.7 812.8,807.7 822.6,1115.8 829.1,1115.8 835.6,807.7 842.1,807.7 848.5,1115.8 858.3,1115.8 864.8,1115.8 871.3,1115.8 877.7,1115.8 884.2,1115.8 890.7,1115.8 900.5,1115.8 906.9,1115.8 913.4,1115.8 919.9,1115.8 926.4,1115.8 932.9,807.7 942.6,807.7 949.1,1115.8 955.6,1115.8 962.1,1115.8 968.6,1115.8 975.1,1115.8 984.8,1115.8 991.3,1115.8 997.8,1115.8 1004.3,807.7 1010.8,807.7 1017.3,1115.8 1027,1115.8 1033.5,807.7 1040,807.7 1046.5,1115.8 1053,1115.8 1059.5,1115.8 1069.2,1115.8 1075.7,1115.8 1082.2,1115.8 1088.7,1115.8 1095.2,1115.8 1101.6,1115.8 1111.4,1115.8 1117.9,1115.8 1124.4,1115.8 1130.8,1115.8 1137.3,1115.8 1143.8,1115.8 1153.6,1115.8 1160.1,1115.8 1166.5,1115.8 1173,1115.8 1179.5,1115.8 1186,807.7 1195.7,807.7 1202.2,807.7 1208.7,807.7 1215.2,1115.8 1221.7,1115.8 1231.4,1115.8 1237.9,1115.8 1244.4,1115.8 1250.9,1115.8 1257.4,1115.8 1263.9,1115.8 1273.6,1115.8 1280.1,1115.8 1286.6,1115.8 1293.1,1115.8 1299.6,1115.8 1306.1,1115.8 1315.8,1115.8 1322.3,1115.8 1328.8,1115.8 1335.3,1115.8 1341.8,1115.8 1348.3,1115.8 1358,1115.8 1364.5,1115.8 1371,1115.8 1377.5,1115.8 1383.9,807.7 1390.4,807.7 1400.2,1115.8 1406.7,1115.8 1413.2,1115.8 1419.6,1115.8 1426.1,807.7 1432.6,807.7 1442.4,1115.8 1448.8,1115.8 1455.3,1115.8 1461.8,1115.8 1468.3,807.7 1474.8,807.7 1484.5,1115.8 1491,1115.8 1497.5,1115.8 1504,1115.8 1510.5,807.7 1517,807.7 1526.7,1115.8 1533.2,1115.8 1539.7,1115.8 1546.2,1115.8 1552.7,1115.8 1562.4,1115.8" stroke="#b85452" stroke-width="3.6" stroke-linejoin="round"/>
<path d="M148.6 1140.4a12 12 0 1 0 24 0a12 12 0 1 0 -24 0zM155.1 1140.4a12 12 0 1 0 24 0a12 12 0 1 0 -24 0zM161.6 1125.5a12 12 0 1 0 24 0a12 12 0 1 0 -24 0zM168.1 1119a12 12 0 1 0 24 0a12 12 0 1 0 -24 0zM174.6 1115.8a12 12 0 1 0 24 0a12 12 0 1 0 -24 0zM184.3 1115.8a12 12 0 1 0 24 0a12 12 0 1 0 -24 0zM190.8 1115.8a12 12 0 1 0 24 0a12 12 0 1 0 -24 0zM197.3 1115.8a12 12 0 1 0 24 0a12 12 0 1 0 -24 0zM203.8 1115.8a12 12 0 1 0 24 0a12 12 0 1 0 -24 0zM210.3 1115.8a12 12 0 1 0 24 0a12 12 0 1 0 -24 0zM216.8 1115.8a12 12 0 1 0 24 0a12 12 0 1 0 -24 0zM226.5 1115.8a12 12 0 1 0 24 0a12 12 0 1 0 -24 0zM233 1115.8a12 12 0 1 0 24 0a12 12 0 1 0 -24 0zM239.5 1115.8a12 12 0 1 0 24 0a12 12 0 1 0 -24 0zM246 1115.8a12 12 0 1 0 24 0a12 12 0 1 0 -24 0zM252.5 1115.8a12 12 0 1 0 24 0a12 12 0 1 0 -24 0zM275.2 1115.8a12 12 0 1 0 24 0a12 12 0 1 0 -24 0zM281.7 1115.8a12 12 0 1 0 24 0a12 12 0 1 0 -24 0zM288.2 1115.8a12 12 0 1 0 24 0a12 12 0 1 0 -24 0zM294.6 1115.8a12 12 0 1 0 24 0a12 12 0 1 0 -24 0zM301.1 1115.8a12 12 0 1 0 24 0a12 12 0 1 0 -24 0zM310.9 1115.8a12 12 0 1 0 24 0a12 12 0 1 0 -24 0zM330.3 1115.8a12 12 0 1 0 24 0a12 12 0 1 0 -24 0zM336.8 1115.8a12 12 0 1 0 24 0a12 12 0 1 0 -24 0zM343.3 1115.8a12 12 0 1 0 24 0a12 12 0 1 0 -24 0zM353.1 1115.8a12 12 0 1 0 24 0a12 12 0 1 0 -24 0zM359.5 1115.8a12 12 0 1 0 24 0a12 12 0 1 0 -24 0zM366 1115.8a12 12 0 1 0 24 0a12 12 0 1 0 -24 0zM372.5 1115.8a12 12 0 1 0 24 0a12 12 0 1 0 -24 0zM379 1115.8a12 12 0 1 0 24 0a12 12 0 1 0 -24 0zM401.7 1115.8a12 12 0 1 0 24 0a12 12 0 1 0 -24 0zM408.2 1115.8a12 12 0 1 0 24 0a12 12 0 1 0 -24 0zM414.7 1115.8a12 12 0 1 0 24 0a12 12 0 1 0 -24 0zM421.2 1115.8a12 12 0 1 0 24 0a12 12 0 1 0 -24 0zM427.7 1115.8a12 12 0 1 0 24 0a12 12 0 1 0 -24 0zM437.4 1115.8a12 12 0 1 0 24 0a12 12 0 1 0 -24 0zM443.9 1115.8a12 12 0 1 0 24 0a12 12 0 1 0 -24 0zM450.4 1115.8a12 12 0 1 0 24 0a12 12 0 1 0 -24 0zM456.9 1115.8a12 12 0 1 0 24 0a12 12 0 1 0 -24 0zM463.4 1115.8a12 12 0 1 0 24 0a12 12 0 1 0 -24 0zM469.9 1115.8a12 12 0 1 0 24 0a12 12 0 1 0 -24 0zM479.6 1115.8a12 12 0 1 0 24 0a12 12 0 1 0 -24 0zM486.1 1115.8a12 12 0 1 0 24 0a12 12 0 1 0 -24 0zM492.6 1115.8a12 12 0 1 0 24 0a12 12 0 1 0 -24 0zM499.1 1115.8a12 12 0 1 0 24 0a12 12 0 1 0 -24 0zM505.6 1115.8a12 12 0 1 0 24 0a12 12 0 1 0 -24 0zM515.3 1115.8a12 12 0 1 0 24 0a12 12 0 1 0 -24 0zM521.8 1115.8a12 12 0 1 0 24 0a12 12 0 1 0 -24 0zM528.3 1115.8a12 12 0 1 0 24 0a12 12 0 1 0 -24 0zM534.8 1115.8a12 12 0 1 0 24 0a12 12 0 1 0 -24 0zM541.3 1115.8a12 12 0 1 0 24 0a12 12 0 1 0 -24 0zM547.7 1115.8a12 12 0 1 0 24 0a12 12 0 1 0 -24 0zM557.5 1115.8a12 12 0 1 0 24 0a12 12 0 1 0 -24 0zM564 1115.8a12 12 0 1 0 24 0a12 12 0 1 0 -24 0zM570.5 1115.8a12 12 0 1 0 24 0a12 12 0 1 0 -24 0zM576.9 1115.8a12 12 0 1 0 24 0a12 12 0 1 0 -24 0zM583.4 1115.8a12 12 0 1 0 24 0a12 12 0 1 0 -24 0zM589.9 1115.8a12 12 0 1 0 24 0a12 12 0 1 0 -24 0zM599.7 1115.8a12 12 0 1 0 24 0a12 12 0 1 0 -24 0zM606.2 1115.8a12 12 0 1 0 24 0a12 12 0 1 0 -24 0zM625.6 1115.8a12 12 0 1 0 24 0a12 12 0 1 0 -24 0zM632.1 1115.8a12 12 0 1 0 24 0a12 12 0 1 0 -24 0zM654.8 1115.8a12 12 0 1 0 24 0a12 12 0 1 0 -24 0zM661.3 1115.8a12 12 0 1 0 24 0a12 12 0 1 0 -24 0zM667.8 1115.8a12 12 0 1 0 24 0a12 12 0 1 0 -24 0zM674.3 1115.8a12 12 0 1 0 24 0a12 12 0 1 0 -24 0zM684 1115.8a12 12 0 1 0 24 0a12 12 0 1 0 -24 0zM690.5 1115.8a12 12 0 1 0 24 0a12 12 0 1 0 -24 0zM697 1115.8a12 12 0 1 0 24 0a12 12 0 1 0 -24 0zM703.5 1115.8a12 12 0 1 0 24 0a12 12 0 1 0 -24 0zM752.2 1115.8a12 12 0 1 0 24 0a12 12 0 1 0 -24 0zM758.7 1115.8a12 12 0 1 0 24 0a12 12 0 1 0 -24 0zM781.4 1115.8a12 12 0 1 0 24 0a12 12 0 1 0 -24 0zM787.9 1115.8a12 12 0 1 0 24 0a12 12 0 1 0 -24 0zM810.6 1115.8a12 12 0 1 0 24 0a12 12 0 1 0 -24 0zM817.1 1115.8a12 12 0 1 0 24 0a12 12 0 1 0 -24 0zM836.5 1115.8a12 12 0 1 0 24 0a12 12 0 1 0 -24 0zM846.3 1115.8a12 12 0 1 0 24 0a12 12 0 1 0 -24 0zM852.8 1115.8a12 12 0 1 0 24 0a12 12 0 1 0 -24 0zM859.3 1115.8a12 12 0 1 0 24 0a12 12 0 1 0 -24 0zM865.7 1115.8a12 12 0 1 0 24 0a12 12 0 1 0 -24 0zM872.2 1115.8a12 12 0 1 0 24 0a12 12 0 1 0 -24 0zM878.7 1115.8a12 12 0 1 0 24 0a12 12 0 1 0 -24 0zM888.5 1115.8a12 12 0 1 0 24 0a12 12 0 1 0 -24 0zM894.9 1115.8a12 12 0 1 0 24 0a12 12 0 1 0 -24 0zM901.4 1115.8a12 12 0 1 0 24 0a12 12 0 1 0 -24 0zM907.9 1115.8a12 12 0 1 0 24 0a12 12 0 1 0 -24 0zM914.4 1115.8a12 12 0 1 0 24 0a12 12 0 1 0 -24 0zM937.1 1115.8a12 12 0 1 0 24 0a12 12 0 1 0 -24 0zM943.6 1115.8a12 12 0 1 0 24 0a12 12 0 1 0 -24 0zM950.1 1115.8a12 12 0 1 0 24 0a12 12 0 1 0 -24 0zM956.6 1115.8a12 12 0 1 0 24 0a12 12 0 1 0 -24 0zM963.1 1115.8a12 12 0 1 0 24 0a12 12 0 1 0 -24 0zM972.8 1115.8a12 12 0 1 0 24 0a12 12 0 1 0 -24 0zM979.3 1115.8a12 12 0 1 0 24 0a12 12 0 1 0 -24 0zM985.8 1115.8a12 12 0 1 0 24 0a12 12 0 1 0 -24 0zM1005.3 1115.8a12 12 0 1 0 24 0a12 12 0 1 0 -24 0zM1015 1115.8a12 12 0 1 0 24 0a12 12 0 1 0 -24 0zM1034.5 1115.8a12 12 0 1 0 24 0a12 12 0 1 0 -24 0zM1041 1115.8a12 12 0 1 0 24 0a12 12 0 1 0 -24 0zM1047.5 1115.8a12 12 0 1 0 24 0a12 12 0 1 0 -24 0zM1057.2 1115.8a12 12 0 1 0 24 0a12 12 0 1 0 -24 0zM1063.7 1115.8a12 12 0 1 0 24 0a12 12 0 1 0 -24 0zM1070.2 1115.8a12 12 0 1 0 24 0a12 12 0 1 0 -24 0zM1076.7 1115.8a12 12 0 1 0 24 0a12 12 0 1 0 -24 0zM1083.2 1115.8a12 12 0 1 0 24 0a12 12 0 1 0 -24 0zM1089.6 1115.8a12 12 0 1 0 24 0a12 12 0 1 0 -24 0zM1099.4 1115.8a12 12 0 1 0 24 0a12 12 0 1 0 -24 0zM1105.9 1115.8a12 12 0 1 0 24 0a12 12 0 1 0 -24 0zM1112.4 1115.8a12 12 0 1 0 24 0a12 12 0 1 0 -24 0zM1118.8 1115.8a12 12 0 1 0 24 0a12 12 0 1 0 -24 0zM1125.3 1115.8a12 12 0 1 0 24 0a12 12 0 1 0 -24 0zM1131.8 1115.8a12 12 0 1 0 24 0a12 12 0 1 0 -24 0zM1141.6 1115.8a12 12 0 1 0 24 0a12 12 0 1 0 -24 0zM1148.1 1115.8a12 12 0 1 0 24 0a12 12 0 1 0 -24 0zM1154.5 1115.8a12 12 0 1 0 24 0a12 12 0 1 0 -24 0zM1161 1115.8a12 12 0 1 0 24 0a12 12 0 1 0 -24 0zM1167.5 1115.8a12 12 0 1 0 24 0a12 12 0 1 0 -24 0zM1203.2 1115.8a12 12 0 1 0 24 0a12 12 0 1 0 -24 0zM1209.7 1115.8a12 12 0 1 0 24 0a12 12 0 1 0 -24 0zM1219.4 1115.8a12 12 0 1 0 24 0a12 12 0 1 0 -24 0zM1225.9 1115.8a12 12 0 1 0 24 0a12 12 0 1 0 -24 0zM1232.4 1115.8a12 12 0 1 0 24 0a12 12 0 1 0 -24 0zM1238.9 1115.8a12 12 0 1 0 24 0a12 12 0 1 0 -24 0zM1245.4 1115.8a12 12 0 1 0 24 0a12 12 0 1 0 -24 0zM1251.9 1115.8a12 12 0 1 0 24 0a12 12 0 1 0 -24 0zM1261.6 1115.8a12 12 0 1 0 24 0a12 12 0 1 0 -24 0zM1268.1 1115.8a12 12 0 1 0 24 0a12 12 0 1 0 -24 0zM1274.6 1115.8a12 12 0 1 0 24 0a12 12 0 1 0 -24 0zM1281.1 1115.8a12 12 0 1 0 24 0a12 12 0 1 0 -24 0zM1287.6 1115.8a12 12 0 1 0 24 0a12 12 0 1 0 -24 0zM1294.1 1115.8a12 12 0 1 0 24 0a12 12 0 1 0 -24 0zM1303.8 1115.8a12 12 0 1 0 24 0a12 12 0 1 0 -24 0zM1310.3 1115.8a12 12 0 1 0 24 0a12 12 0 1 0 -24 0zM1316.8 1115.8a12 12 0 1 0 24 0a12 12 0 1 0 -24 0zM1323.3 1115.8a12 12 0 1 0 24 0a12 12 0 1 0 -24 0zM1329.8 1115.8a12 12 0 1 0 24 0a12 12 0 1 0 -24 0zM1336.3 1115.8a12 12 0 1 0 24 0a12 12 0 1 0 -24 0zM1346 1115.8a12 12 0 1 0 24 0a12 12 0 1 0 -24 0zM1352.5 1115.8a12 12 0 1 0 24 0a12 12 0 1 0 -24 0zM1359 1115.8a12 12 0 1 0 24 0a12 12 0 1 0 -24 0zM1365.5 1115.8a12 12 0 1 0 24 0a12 12 0 1 0 -24 0zM1388.2 1115.8a12 12 0 1 0 24 0a12 12 0 1 0 -24 0zM1394.7 1115.8a12 12 0 1 0 24 0a12 12 0 1 0 -24 0zM1401.2 1115.8a12 12 0 1 0 24 0a12 12 0 1 0 -24 0zM1407.6 1115.8a12 12 0 1 0 24 0a12 12 0 1 0 -24 0zM1430.4 1115.8a12 12 0 1 0 24 0a12 12 0 1 0 -24 0zM1436.8 1115.8a12 12 0 1 0 24 0a12 12 0 1 0 -24 0zM1443.3 1115.8a12 12 0 1 0 24 0a12 12 0 1 0 -24 0zM1449.8 1115.8a12 12 0 1 0 24 0a12 12 0 1 0 -24 0zM1472.5 1115.8a12 12 0 1 0 24 0a12 12 0 1 0 -24 0zM1479 1115.8a12 12 0 1 0 24 0a12 12 0 1 0 -24 0zM1485.5 1115.8a12 12 0 1 0 24 0a12 12 0 1 0 -24 0zM1492 1115.8a12 12 0 1 0 24 0a12 12 0 1 0 -24 0zM1514.7 1115.8a12 12 0 1 0 24 0a12 12 0 1 0 -24 0zM1521.2 1115.8a12 12 0 1 0 24 0a12 12 0 1 0 -24 0zM1527.7 1115.8a12 12 0 1 0 24 0a12 12 0 1 0 -24 0zM1534.2 1115.8a12 12 0 1 0 24 0a12 12 0 1 0 -24 0zM1540.7 1115.8a12 12 0 1 0 24 0a12 12 0 1 0 -24 0zM1550.4 1115.8a12 12 0 1 0 24 0a12 12 0 1 0 -24 0z" stroke="#e4306c" stroke-width="2.6"/>
<path d="M258.9 807.7a12 12 0 1 0 24 0a12 12 0 1 0 -24 0zM268.7 807.7a12 12 0 1 0 24 0a12 12 0 1 0 -24 0zM317.4 807.7a12 12 0 1 0 24 0a12 12 0 1 0 -24 0zM323.8 807.7a12 12 0 1 0 24 0a12 12 0 1 0 -24 0zM385.5 807.7a12 12 0 1 0 24 0a12 12 0 1 0 -24 0zM395.2 807.7a12 12 0 1 0 24 0a12 12 0 1 0 -24 0zM612.6 807.7a12 12 0 1 0 24 0a12 12 0 1 0 -24 0zM619.1 807.7a12 12 0 1 0 24 0a12 12 0 1 0 -24 0zM641.8 807.7a12 12 0 1 0 24 0a12 12 0 1 0 -24 0zM648.3 807.7a12 12 0 1 0 24 0a12 12 0 1 0 -24 0zM710 807.7a12 12 0 1 0 24 0a12 12 0 1 0 -24 0zM716.5 807.7a12 12 0 1 0 24 0a12 12 0 1 0 -24 0zM726.2 807.7a12 12 0 1 0 24 0a12 12 0 1 0 -24 0zM732.7 807.7a12 12 0 1 0 24 0a12 12 0 1 0 -24 0zM739.2 807.7a12 12 0 1 0 24 0a12 12 0 1 0 -24 0zM745.7 807.7a12 12 0 1 0 24 0a12 12 0 1 0 -24 0zM768.4 807.7a12 12 0 1 0 24 0a12 12 0 1 0 -24 0zM774.9 807.7a12 12 0 1 0 24 0a12 12 0 1 0 -24 0zM794.4 807.7a12 12 0 1 0 24 0a12 12 0 1 0 -24 0zM800.8 807.7a12 12 0 1 0 24 0a12 12 0 1 0 -24 0zM823.6 807.7a12 12 0 1 0 24 0a12 12 0 1 0 -24 0zM830.1 807.7a12 12 0 1 0 24 0a12 12 0 1 0 -24 0zM920.9 807.7a12 12 0 1 0 24 0a12 12 0 1 0 -24 0zM930.6 807.7a12 12 0 1 0 24 0a12 12 0 1 0 -24 0zM992.3 807.7a12 12 0 1 0 24 0a12 12 0 1 0 -24 0zM998.8 807.7a12 12 0 1 0 24 0a12 12 0 1 0 -24 0zM1021.5 807.7a12 12 0 1 0 24 0a12 12 0 1 0 -24 0zM1028 807.7a12 12 0 1 0 24 0a12 12 0 1 0 -24 0zM1174 807.7a12 12 0 1 0 24 0a12 12 0 1 0 -24 0zM1183.7 807.7a12 12 0 1 0 24 0a12 12 0 1 0 -24 0zM1190.2 807.7a12 12 0 1 0 24 0a12 12 0 1 0 -24 0zM1196.7 807.7a12 12 0 1 0 24 0a12 12 0 1 0 -24 0zM1371.9 807.7a12 12 0 1 0 24 0a12 12 0 1 0 -24 0zM1378.4 807.7a12 12 0 1 0 24 0a12 12 0 1 0 -24 0zM1414.1 807.7a12 12 0 1 0 24 0a12 12 0 1 0 -24 0zM1420.6 807.7a12 12 0 1 0 24 0a12 12 0 1 0 -24 0zM1456.3 807.7a12 12 0 1 0 24 0a12 12 0 1 0 -24 0zM1462.8 807.7a12 12 0 1 0 24 0a12 12 0 1 0 -24 0zM1498.5 807.7a12 12 0 1 0 24 0a12 12 0 1 0 -24 0zM1505 807.7a12 12 0 1 0 24 0a12 12 0 1 0 -24 0z" stroke="#d62828" stroke-width="3" fill="#ffd0d0" fill-opacity="0.4"/>
</g>
<polyline points="160.6,1081 167.1,1062.5 173.6,1062.5 180.1,1062.5 186.6,1062.5 196.3,1062.5 202.8,1062.5 209.3,1062.5 215.8,1062.5 222.3,1062.5 228.8,1062.5 238.5,1062.5 245,1062.5 251.5,1062.5 258,1062.5 264.5,1062.5 270.9,1113 280.7,1113 287.2,1062.5 293.7,1062.5 300.2,1062.5 306.6,1062.5 313.1,1062.5 322.9,1062.5 329.4,1113 335.8,1113 342.3,1062.5 348.8,1062.5 355.3,1062.5 365.1,1062.5 371.5,1062.5 378,1062.5 384.5,1062.5 391,1062.5 397.5,1113 407.2,1113 413.7,1062.5 420.2,1062.5 426.7,1062.5 433.2,1062.5 439.7,1062.5 449.4,1062.5 455.9,1062.5 462.4,1062.5 468.9,1062.5 475.4,1062.5 481.9,1062.5 491.6,1062.5 498.1,1062.5 504.6,1062.5 511.1,1062.5 517.6,1062.5 527.3,1062.5 533.8,1062.5 540.3,1062.5 546.8,1062.5 553.3,1062.5 559.7,1062.5 569.5,1062.5 576,1062.5 582.5,1062.5 588.9,1062.5 595.4,1062.5 601.9,1062.5 611.7,1062.5 618.2,1062.5 624.6,1113 631.1,1113 637.6,1062.5 644.1,1062.5 653.8,1113 660.3,1113 666.8,1062.5 673.3,1062.5 679.8,1062.5 686.3,1062.5 696,1062.5 702.5,1062.5 709,1062.5 715.5,1062.5 722,1113 728.5,1113 738.2,1113 744.7,1113 751.2,1113 757.7,1113 764.2,1062.5 770.7,1062.5 780.4,1113 786.9,1113 793.4,1062.5 799.9,1062.5 806.4,1113 812.8,1113 822.6,1062.5 829.1,1062.5 835.6,1113 842.1,1113 848.5,1062.5 858.3,1062.5 864.8,1062.5 871.3,1062.5 877.7,1062.5 884.2,1062.5 890.7,1062.5 900.5,1062.5 906.9,1062.5 913.4,1062.5 919.9,1062.5 926.4,1062.5 932.9,1113 942.6,1113 949.1,1062.5 955.6,1062.5 962.1,1062.5 968.6,1062.5 975.1,1062.5 984.8,1062.5 991.3,1062.5 997.8,1062.5 1004.3,1113 1010.8,1113 1017.3,1062.5 1027,1062.5 1033.5,1113 1040,1113 1046.5,1062.5 1053,1062.5 1059.5,1062.5 1069.2,1062.5 1075.7,1062.5 1082.2,1062.5 1088.7,1062.5 1095.2,1062.5 1101.6,1062.5 1111.4,1062.5 1117.9,1062.5 1124.4,1062.5 1130.8,1062.5 1137.3,1062.5 1143.8,1062.5 1153.6,1062.5 1160.1,1062.5 1166.5,1062.5 1173,1062.5 1179.5,1062.5 1186,1113 1195.7,1113 1202.2,1113 1208.7,1113 1215.2,1062.5 1221.7,1062.5 1231.4,1062.5 1237.9,1062.5 1244.4,1062.5 1250.9,1062.5 1257.4,1062.5 1263.9,1062.5 1273.6,1062.5 1280.1,1062.5 1286.6,1062.5 1293.1,1062.5 1299.6,1062.5 1306.1,1062.5 1315.8,1062.5 1322.3,1062.5 1328.8,1062.5 1335.3,1062.5 1341.8,1062.5 1348.3,1062.5 1358,1062.5 1364.5,1062.5 1371,1062.5 1377.5,1062.5 1383.9,1113 1390.4,1113 1400.2,1062.5 1406.7,1062.5 1413.2,1062.5 1419.6,1062.5 1426.1,1113 1432.6,1113 1442.4,1062.5 1448.8,1062.5 1455.3,1062.5 1461.8,1062.5 1468.3,1113 1474.8,1113 1484.5,1062.5 1491,1062.5 1497.5,1062.5 1504,1062.5 1510.5,1113 1517,1113 1526.7,1062.5 1533.2,1062.5 1539.7,1062.5 1546.2,1062.5 1552.7,1062.5 1562.4,1062.5" fill="none" stroke="#f4f420" stroke-width="3.2"/>
<path d="M147.4 1072.8L173.8 1072.8L160.6 1097L160.6 1097z" fill="#f9ec58" fill-opacity="0.413" stroke="#f6f63c" stroke-width="3.4" stroke-linejoin="miter"/>
<path d="M257.7 1104.8L293.9 1104.8L280.7 1129L270.9 1129zM316.2 1104.8L349 1104.8L335.8 1129L329.4 1129zM384.3 1104.8L420.4 1104.8L407.2 1129L397.5 1129zM611.4 1104.8L644.3 1104.8L631.1 1129L624.6 1129zM624.4 1054.3L657.3 1054.3L644.1 1078.5L637.6 1078.5zM640.6 1104.8L673.5 1104.8L660.3 1129L653.8 1129zM751 1054.3L783.9 1054.3L770.7 1078.5L764.2 1078.5zM767.2 1104.8L800.1 1104.8L786.9 1129L780.4 1129zM780.2 1054.3L813.1 1054.3L799.9 1078.5L793.4 1078.5zM793.2 1104.8L826 1104.8L812.8 1129L806.4 1129zM809.4 1054.3L842.3 1054.3L829.1 1078.5L822.6 1078.5zM822.4 1104.8L855.3 1104.8L842.1 1129L835.6 1129zM919.7 1104.8L955.8 1104.8L942.6 1129L932.9 1129zM991.1 1104.8L1024 1104.8L1010.8 1129L1004.3 1129zM1004.1 1054.3L1040.2 1054.3L1027 1078.5L1017.3 1078.5zM1020.3 1104.8L1053.2 1104.8L1040 1129L1033.5 1129zM1370.7 1104.8L1403.6 1104.8L1390.4 1129L1383.9 1129zM1412.9 1104.8L1445.8 1104.8L1432.6 1129L1426.1 1129zM1455.1 1104.8L1488 1104.8L1474.8 1129L1468.3 1129zM1497.3 1104.8L1530.2 1104.8L1517 1129L1510.5 1129z" fill="#f9ec58" fill-opacity="0.637" stroke="#f6f63c" stroke-width="3.4" stroke-linejoin="miter"/>
<path d="M153.9 1054.3L277.7 1054.3L264.5 1078.5L167.1 1078.5zM274 1054.3L336.1 1054.3L322.9 1078.5L287.2 1078.5zM329.1 1054.3L404.2 1054.3L391 1078.5L342.3 1078.5zM400.5 1054.3L631.4 1054.3L618.2 1078.5L413.7 1078.5zM653.6 1054.3L728.7 1054.3L715.5 1078.5L666.8 1078.5zM708.8 1104.8L770.9 1104.8L757.7 1129L722 1129zM835.3 1054.3L939.6 1054.3L926.4 1078.5L848.5 1078.5zM935.9 1054.3L1011 1054.3L997.8 1078.5L949.1 1078.5zM1033.3 1054.3L1192.7 1054.3L1179.5 1078.5L1046.5 1078.5zM1172.8 1104.8L1221.9 1104.8L1208.7 1129L1186 1129zM1202 1054.3L1390.7 1054.3L1377.5 1078.5L1215.2 1078.5zM1387 1054.3L1432.8 1054.3L1419.6 1078.5L1400.2 1078.5zM1429.2 1054.3L1475 1054.3L1461.8 1078.5L1442.4 1078.5zM1471.3 1054.3L1517.2 1054.3L1504 1078.5L1484.5 1078.5zM1513.5 1054.3L1575.6 1054.3L1562.4 1078.5L1526.7 1078.5z" fill="#f8f83a" fill-opacity="0.97" stroke="#f6f63c" stroke-width="3.4" stroke-linejoin="miter"/>
<path d="M160.6 1097L173.8 1072.8L147.4 1072.8zM270.9 1129L284.1 1104.8L257.7 1104.8zM280.7 1129L293.9 1104.8L267.5 1104.8zM329.4 1129L342.6 1104.8L316.2 1104.8zM335.8 1129L349 1104.8L322.6 1104.8zM397.5 1129L410.7 1104.8L384.3 1104.8zM407.2 1129L420.4 1104.8L394 1104.8zM624.6 1129L637.8 1104.8L611.4 1104.8zM631.1 1129L644.3 1104.8L617.9 1104.8zM637.6 1078.5L650.8 1054.3L624.4 1054.3zM644.1 1078.5L657.3 1054.3L630.9 1054.3zM653.8 1129L667 1104.8L640.6 1104.8zM660.3 1129L673.5 1104.8L647.1 1104.8zM764.2 1078.5L777.4 1054.3L751 1054.3zM770.7 1078.5L783.9 1054.3L757.5 1054.3zM780.4 1129L793.6 1104.8L767.2 1104.8zM786.9 1129L800.1 1104.8L773.7 1104.8zM793.4 1078.5L806.6 1054.3L780.2 1054.3zM799.9 1078.5L813.1 1054.3L786.7 1054.3zM806.4 1129L819.6 1104.8L793.2 1104.8zM812.8 1129L826 1104.8L799.6 1104.8zM822.6 1078.5L835.8 1054.3L809.4 1054.3zM829.1 1078.5L842.3 1054.3L815.9 1054.3zM835.6 1129L848.8 1104.8L822.4 1104.8zM842.1 1129L855.3 1104.8L828.9 1104.8zM932.9 1129L946.1 1104.8L919.7 1104.8zM942.6 1129L955.8 1104.8L929.4 1104.8zM1004.3 1129L1017.5 1104.8L991.1 1104.8zM1010.8 1129L1024 1104.8L997.6 1104.8zM1017.3 1078.5L1030.5 1054.3L1004.1 1054.3zM1027 1078.5L1040.2 1054.3L1013.8 1054.3zM1033.5 1129L1046.7 1104.8L1020.3 1104.8zM1040 1129L1053.2 1104.8L1026.8 1104.8zM1383.9 1129L1397.1 1104.8L1370.7 1104.8zM1390.4 1129L1403.6 1104.8L1377.2 1104.8zM1426.1 1129L1439.3 1104.8L1412.9 1104.8zM1432.6 1129L1445.8 1104.8L1419.4 1104.8zM1468.3 1129L1481.5 1104.8L1455.1 1104.8zM1474.8 1129L1488 1104.8L1461.6 1104.8zM1510.5 1129L1523.7 1104.8L1497.3 1104.8zM1517 1129L1530.2 1104.8L1503.8 1104.8z" fill="none" stroke="#f6f63c" stroke-width="3.2" stroke-linejoin="miter"/>
<path d="M164.1 1058.2H267.5V1081.8H164.1zM284.2 1058.2H325.9V1081.8H284.2zM339.3 1058.2H394V1081.8H339.3zM410.7 1058.2H621.2V1081.8H410.7zM663.8 1058.2H718.5V1081.8H663.8zM845.5 1058.2H929.4V1081.8H845.5zM946.1 1058.2H1000.8V1081.8H946.1zM1043.5 1058.2H1182.5V1081.8H1043.5zM1212.2 1058.2H1380.5V1081.8H1212.2zM1397.2 1058.2H1422.6V1081.8H1397.2zM1439.4 1058.2H1464.8V1081.8H1439.4zM1481.5 1058.2H1507V1081.8H1481.5zM1523.7 1058.2H1565.4V1081.8H1523.7z" fill="#fdfd00" fill-opacity="1" stroke="none"/>
<path d="M165.5 1082.6H266.1M285.6 1082.6H324.5M340.7 1082.6H392.6M412.1 1082.6H619.8M636 1082.6H645.7M665.2 1082.6H717.1M762.6 1082.6H772.3M791.8 1082.6H801.5M821 1082.6H830.7M846.9 1082.6H928M947.5 1082.6H999.4M1015.7 1082.6H1028.6M1044.9 1082.6H1181.1M1213.6 1082.6H1379.1M1398.6 1082.6H1421.2M1440.8 1082.6H1463.4M1482.9 1082.6H1505.6M1525.1 1082.6H1564" fill="none" stroke="#f4f41e" stroke-width="3.2" stroke-dasharray="3.25 3.25"/>
<path d="M176.6 1125.8H274.5V1129.3H176.6zM277.2 1125.8H332.9V1129.3H277.2zM332.3 1125.8H401V1129.3H332.3zM403.7 1125.8H628.2V1129.3H403.7zM656.8 1125.8H725.5V1129.3H656.8zM838.5 1125.8H936.4V1129.3H838.5zM939.1 1125.8H1007.8V1129.3H939.1zM1036.5 1125.8H1189.5V1129.3H1036.5zM1205.2 1125.8H1387.5V1129.3H1205.2zM1390.2 1125.8H1429.6V1129.3H1390.2zM1432.4 1125.8H1471.8V1129.3H1432.4zM1474.5 1125.8H1514V1129.3H1474.5zM1516.7 1125.8H1572.4V1129.3H1516.7z" fill="#e00a6c" fill-opacity="0.85" stroke="none"/>
<polyline points="160.6,1140.4 167.1,1140.4 173.6,1127 180.1,1120.5 186.6,1117.7 196.3,1117.7 202.8,1117.7 209.3,1117.7 215.8,1117.7 222.3,1117.7 228.8,1117.7 238.5,1117.7 245,1117.7 251.5,1117.7 258,1117.7 264.5,1117.7 270.9,1068 280.7,1068 287.2,1117.7 293.7,1117.7 300.2,1117.7 306.6,1117.7 313.1,1117.7 322.9,1117.7 329.4,1068 335.8,1068 342.3,1117.7 348.8,1117.7 355.3,1117.7 365.1,1117.7 371.5,1117.7 378,1117.7 384.5,1117.7 391,1117.7 397.5,1068 407.2,1068 413.7,1117.7 420.2,1117.7 426.7,1117.7 433.2,1117.7 439.7,1117.7 449.4,1117.7 455.9,1117.7 462.4,1117.7 468.9,1117.7 475.4,1117.7 481.9,1117.7 491.6,1117.7 498.1,1117.7 504.6,1117.7 511.1,1117.7 517.6,1117.7 527.3,1117.7 533.8,1117.7 540.3,1117.7 546.8,1117.7 553.3,1117.7 559.7,1117.7 569.5,1117.7 576,1117.7 582.5,1117.7 588.9,1117.7 595.4,1117.7 601.9,1117.7 611.7,1117.7 618.2,1117.7 624.6,1068 631.1,1068 637.6,1117.7 644.1,1117.7 653.8,1068 660.3,1068 666.8,1117.7 673.3,1117.7 679.8,1117.7 686.3,1117.7 696,1117.7 702.5,1117.7 709,1117.7 715.5,1117.7 722,1068 728.5,1068 738.2,1068 744.7,1068 751.2,1068 757.7,1068 764.2,1117.7 770.7,1117.7 780.4,1068 786.9,1068 793.4,1117.7 799.9,1117.7 806.4,1068 812.8,1068 822.6,1117.7 829.1,1117.7 835.6,1068 842.1,1068 848.5,1117.7 858.3,1117.7 864.8,1117.7 871.3,1117.7 877.7,1117.7 884.2,1117.7 890.7,1117.7 900.5,1117.7 906.9,1117.7 913.4,1117.7 919.9,1117.7 926.4,1117.7 932.9,1068 942.6,1068 949.1,1117.7 955.6,1117.7 962.1,1117.7 968.6,1117.7 975.1,1117.7 984.8,1117.7 991.3,1117.7 997.8,1117.7 1004.3,1068 1010.8,1068 1017.3,1117.7 1027,1117.7 1033.5,1068 1040,1068 1046.5,1117.7 1053,1117.7 1059.5,1117.7 1069.2,1117.7 1075.7,1117.7 1082.2,1117.7 1088.7,1117.7 1095.2,1117.7 1101.6,1117.7 1111.4,1117.7 1117.9,1117.7 1124.4,1117.7 1130.8,1117.7 1137.3,1117.7 1143.8,1117.7 1153.6,1117.7 1160.1,1117.7 1166.5,1117.7 1173,1117.7 1179.5,1117.7 1186,1068 1195.7,1068 1202.2,1068 1208.7,1068 1215.2,1117.7 1221.7,1117.7 1231.4,1117.7 1237.9,1117.7 1244.4,1117.7 1250.9,1117.7 1257.4,1117.7 1263.9,1117.7 1273.6,1117.7 1280.1,1117.7 1286.6,1117.7 1293.1,1117.7 1299.6,1117.7 1306.1,1117.7 1315.8,1117.7 1322.3,1117.7 1328.8,1117.7 1335.3,1117.7 1341.8,1117.7 1348.3,1117.7 1358,1117.7 1364.5,1117.7 1371,1117.7 1377.5,1117.7 1383.9,1068 1390.4,1068 1400.2,1117.7 1406.7,1117.7 1413.2,1117.7 1419.6,1117.7 1426.1,1068 1432.6,1068 1442.4,1117.7 1448.8,1117.7 1455.3,1117.7 1461.8,1117.7 1468.3,1068 1474.8,1068 1484.5,1117.7 1491,1117.7 1497.5,1117.7 1504,1117.7 1510.5,1068 1517,1068 1526.7,1117.7 1533.2,1117.7 1539.7,1117.7 1546.2,1117.7 1552.7,1117.7 1562.4,1117.7" fill="none" stroke="#f01cb4" stroke-width="3.2"/>
<path d="M257.7 1074.6L270.9 1051.4L280.7 1051.4L293.9 1074.6zM316.2 1074.6L329.4 1051.4L335.8 1051.4L349 1074.6zM384.3 1074.6L397.5 1051.4L407.2 1051.4L420.4 1074.6zM611.4 1074.6L624.6 1051.4L631.1 1051.4L644.3 1074.6zM624.4 1124.3L637.6 1101.1L644.1 1101.1L657.3 1124.3zM640.6 1074.6L653.8 1051.4L660.3 1051.4L673.5 1074.6zM751 1124.3L764.2 1101.1L770.7 1101.1L783.9 1124.3zM767.2 1074.6L780.4 1051.4L786.9 1051.4L800.1 1074.6zM780.2 1124.3L793.4 1101.1L799.9 1101.1L813.1 1124.3zM793.2 1074.6L806.4 1051.4L812.8 1051.4L826 1074.6zM809.4 1124.3L822.6 1101.1L829.1 1101.1L842.3 1124.3zM822.4 1074.6L835.6 1051.4L842.1 1051.4L855.3 1074.6zM919.7 1074.6L932.9 1051.4L942.6 1051.4L955.8 1074.6zM991.1 1074.6L1004.3 1051.4L1010.8 1051.4L1024 1074.6zM1004.1 1124.3L1017.3 1101.1L1027 1101.1L1040.2 1124.3zM1020.3 1074.6L1033.5 1051.4L1040 1051.4L1053.2 1074.6zM1370.7 1074.6L1383.9 1051.4L1390.4 1051.4L1403.6 1074.6zM1412.9 1074.6L1426.1 1051.4L1432.6 1051.4L1445.8 1074.6zM1455.1 1074.6L1468.3 1051.4L1474.8 1051.4L1488 1074.6zM1497.3 1074.6L1510.5 1051.4L1517 1051.4L1530.2 1074.6z" fill="#ff48d4" fill-opacity="0.85" stroke="#ff0cc0" stroke-width="3.4" stroke-linejoin="miter"/>
<path d="M147.4 1147L160.6 1123.8L167.1 1123.8L180.3 1147zM160.4 1133.6L173.6 1110.4L173.6 1110.4L186.8 1133.6zM166.9 1127.1L180.1 1103.9L180.1 1103.9L193.3 1127.1z" fill="#ff08c4" fill-opacity="0.92" stroke="#ff0cc0" stroke-width="3.4" stroke-linejoin="miter"/>
<path d="M173.4 1124.3L186.6 1101.1L264.5 1101.1L277.7 1124.3zM274 1124.3L287.2 1101.1L322.9 1101.1L336.1 1124.3zM329.1 1124.3L342.3 1101.1L391 1101.1L404.2 1124.3zM400.5 1124.3L413.7 1101.1L618.2 1101.1L631.4 1124.3zM653.6 1124.3L666.8 1101.1L715.5 1101.1L728.7 1124.3zM708.8 1074.6L722 1051.4L757.7 1051.4L770.9 1074.6zM835.3 1124.3L848.5 1101.1L926.4 1101.1L939.6 1124.3zM935.9 1124.3L949.1 1101.1L997.8 1101.1L1011 1124.3zM1033.3 1124.3L1046.5 1101.1L1179.5 1101.1L1192.7 1124.3zM1172.8 1074.6L1186 1051.4L1208.7 1051.4L1221.9 1074.6zM1202 1124.3L1215.2 1101.1L1377.5 1101.1L1390.7 1124.3zM1387 1124.3L1400.2 1101.1L1419.6 1101.1L1432.8 1124.3zM1429.2 1124.3L1442.4 1101.1L1461.8 1101.1L1475 1124.3zM1471.3 1124.3L1484.5 1101.1L1504 1101.1L1517.2 1124.3zM1513.5 1124.3L1526.7 1101.1L1562.4 1101.1L1575.6 1124.3z" fill="#ff08c4" fill-opacity="0.97" stroke="#ff0cc0" stroke-width="3.4" stroke-linejoin="miter"/>
<path d="M160.6 1123.8L173.8 1147L147.4 1147zM167.1 1123.8L180.3 1147L153.9 1147zM173.6 1110.4L186.8 1133.6L160.4 1133.6zM180.1 1103.9L193.3 1127.1L166.9 1127.1zM270.9 1051.4L284.1 1074.6L257.7 1074.6zM280.7 1051.4L293.9 1074.6L267.5 1074.6zM329.4 1051.4L342.6 1074.6L316.2 1074.6zM335.8 1051.4L349 1074.6L322.6 1074.6zM397.5 1051.4L410.7 1074.6L384.3 1074.6zM407.2 1051.4L420.4 1074.6L394 1074.6zM624.6 1051.4L637.8 1074.6L611.4 1074.6zM631.1 1051.4L644.3 1074.6L617.9 1074.6zM637.6 1101.1L650.8 1124.3L624.4 1124.3zM644.1 1101.1L657.3 1124.3L630.9 1124.3zM653.8 1051.4L667 1074.6L640.6 1074.6zM660.3 1051.4L673.5 1074.6L647.1 1074.6zM764.2 1101.1L777.4 1124.3L751 1124.3zM770.7 1101.1L783.9 1124.3L757.5 1124.3zM780.4 1051.4L793.6 1074.6L767.2 1074.6zM786.9 1051.4L800.1 1074.6L773.7 1074.6zM793.4 1101.1L806.6 1124.3L780.2 1124.3zM799.9 1101.1L813.1 1124.3L786.7 1124.3zM806.4 1051.4L819.6 1074.6L793.2 1074.6zM812.8 1051.4L826 1074.6L799.6 1074.6zM822.6 1101.1L835.8 1124.3L809.4 1124.3zM829.1 1101.1L842.3 1124.3L815.9 1124.3zM835.6 1051.4L848.8 1074.6L822.4 1074.6zM842.1 1051.4L855.3 1074.6L828.9 1074.6zM932.9 1051.4L946.1 1074.6L919.7 1074.6zM942.6 1051.4L955.8 1074.6L929.4 1074.6zM1004.3 1051.4L1017.5 1074.6L991.1 1074.6zM1010.8 1051.4L1024 1074.6L997.6 1074.6zM1017.3 1101.1L1030.5 1124.3L1004.1 1124.3zM1027 1101.1L1040.2 1124.3L1013.8 1124.3zM1033.5 1051.4L1046.7 1074.6L1020.3 1074.6zM1040 1051.4L1053.2 1074.6L1026.8 1074.6zM1383.9 1051.4L1397.1 1074.6L1370.7 1074.6zM1390.4 1051.4L1403.6 1074.6L1377.2 1074.6zM1426.1 1051.4L1439.3 1074.6L1412.9 1074.6zM1432.6 1051.4L1445.8 1074.6L1419.4 1074.6zM1468.3 1051.4L1481.5 1074.6L1455.1 1074.6zM1474.8 1051.4L1488 1074.6L1461.6 1074.6zM1510.5 1051.4L1523.7 1074.6L1497.3 1074.6zM1517 1051.4L1530.2 1074.6L1503.8 1074.6z" fill="none" stroke="#ff0cc0" stroke-width="3.2" stroke-linejoin="miter"/>
<path d="M185 1098.4H266.1M285.6 1098.4H324.5M340.7 1098.4H392.6M412.1 1098.4H619.8M636 1098.4H645.7M665.2 1098.4H717.1M762.6 1098.4H772.3M791.8 1098.4H801.5M821 1098.4H830.7M846.9 1098.4H928M947.5 1098.4H999.4M1015.7 1098.4H1028.6M1044.9 1098.4H1181.1M1213.6 1098.4H1379.1M1398.6 1098.4H1421.2M1440.8 1098.4H1463.4M1482.9 1098.4H1505.6M1525.1 1098.4H1564" fill="none" stroke="#f23cc8" stroke-width="3.2" stroke-dasharray="3.25 3.25"/>
<rect x="153.9" y="710.5" width="1399.6" height="3.3" fill="url(#annA)"/>
<rect x="153.9" y="713.7" width="1399.6" height="3.2" fill="url(#annB)"/>
<rect x="1075.3" y="66.5" width="447.7" height="327.5" fill="#fff" stroke="#111" stroke-width="3.2"/>
<g fill="none" stroke="#000" stroke-width="3.2"><path d="M1086.7 95.4H1216"/><rect x="1143.1" y="85.7" width="19.4" height="19.4" fill="#fff"/></g>
<path d="M1143.1 95.4H1162.5" stroke="#000" stroke-width="3.2"/>
<path d="M1086.7 150.6H1216M1152.8 136.2v28.8" fill="none" stroke="#0c0c70" stroke-width="3.2"/>
<path d="M1086.7 204.7H1216" stroke="#7be89a" stroke-width="9" opacity="0.6" filter="url(#halo)"/>
<path d="M1086.7 202.7H1216" stroke="#2fae57" stroke-width="3.2"/>
<path d="M1086.7 257.4H1216" stroke="#ff8a8a" stroke-width="8" opacity="0.5" filter="url(#halo)"/>
<path d="M1086.7 257.4H1216" stroke="#983434" stroke-width="3.2"/>
<circle cx="1152.8" cy="257.4" r="12.6" fill="none" stroke="#c44a4a" stroke-width="2.6"/>
<path d="M1082.7 308.1H1216" stroke="#ffff50" stroke-width="10" opacity="0.45" filter="url(#halo)"/>
<path d="M1086.7 309.1H1216" stroke="#eaea5a" stroke-width="3.4"/>
<path d="M1152.8 325.1L1166 300.9L1139.6 300.9z" fill="#fbfb70" fill-opacity="0.6" stroke="#f0f068" stroke-width="2.8" stroke-opacity="0.8"/>
<rect x="1138" y="299.2" width="29.6" height="11.4" fill="#f3f34a"/>
<path d="M1086.7 366.9H1216" stroke="#ff8aff" stroke-width="9" opacity="0.45" filter="url(#halo)"/>
<path d="M1152.8 348.3L1166 371.5L1139.6 371.5z" fill="#ffc8ff" fill-opacity="0.55" stroke="#d45cc4" stroke-width="2.8"/>
<path d="M1086.7 364.9H1216" stroke="#9c3c8c" stroke-width="3.2"/>
<path d="M1136.6 371.5H1169" stroke="#b232a2" stroke-width="3.4"/>
<text class="lg" x="1226" y="112.9">Unknown</text>
<text class="lg" x="1226" y="165.3">Friend</text>
<text class="lg" x="1226" y="220.7">Neutral</text>
<text class="lg" x="1226" y="272.4">Hostile</text>
<text class="lg" x="1226" y="327">Assumed Friend</text>
<text class="lg" x="1226" y="378.8">Suspect</text>
<g transform="translate(138.7 1203.8) scale(1 1.06)"><text class="tk" x="0" y="0" letter-spacing="-1.33">0</text></g>
<g transform="translate(268.6 1203.8) scale(1 1.06)"><text class="tk" x="0" y="0" letter-spacing="-1.33">20</text></g>
<g transform="translate(411.1 1203.8) scale(1 1.06)"><text class="tk" x="0" y="0" letter-spacing="-1.33">40</text></g>
<g transform="translate(550.6 1203.8) scale(1 1.06)"><text class="tk" x="0" y="0" letter-spacing="-1.33">60</text></g>
<g transform="translate(693.6 1203.8) scale(1 1.06)"><text class="tk" x="0" y="0" letter-spacing="-1.33">80</text></g>
<g transform="translate(821.6 1203.8) scale(1 1.06)"><text class="tk" x="0" y="0" letter-spacing="-1.33">100</text><rect x="1.3" y="-4.6" width="9.2" height="6.2" fill="#fff"/><rect x="15.1" y="-4.6" width="8.8" height="6.2" fill="#fff"/></g>
<g transform="translate(960.8 1203.8) scale(1 1.06)"><text class="tk" x="0" y="0" letter-spacing="-1.33">120</text><rect x="1.3" y="-4.6" width="9.2" height="6.2" fill="#fff"/><rect x="15.1" y="-4.6" width="8.8" height="6.2" fill="#fff"/></g>
<g transform="translate(1103.8 1203.8) scale(1 1.06)"><text class="tk" x="0" y="0" letter-spacing="-1.33">140</text><rect x="1.3" y="-4.6" width="9.2" height="6.2" fill="#fff"/><rect x="15.1" y="-4.6" width="8.8" height="6.2" fill="#fff"/></g>
<g transform="translate(1242.7 1203.8) scale(1 1.06)"><text class="tk" x="0" y="0" letter-spacing="-1.33">160</text><rect x="1.3" y="-4.6" width="9.2" height="6.2" fill="#fff"/><rect x="15.1" y="-4.6" width="8.8" height="6.2" fill="#fff"/></g>
<g transform="translate(1384.9 1203.8) scale(1 1.06)"><text class="tk" x="0" y="0" letter-spacing="-1.33">180</text><rect x="1.3" y="-4.6" width="9.2" height="6.2" fill="#fff"/><rect x="15.1" y="-4.6" width="8.8" height="6.2" fill="#fff"/></g>
<g transform="translate(1523.2 1203.8) scale(1 1.06)"><text class="tk" x="0" y="0" letter-spacing="-1.33">200</text></g>
<g transform="translate(110 48.9) scale(1 1.06)"><text class="tk" x="0" y="0">1</text><rect x="1.3" y="-4.6" width="9.2" height="6.2" fill="#fff"/><rect x="15.1" y="-4.6" width="8.8" height="6.2" fill="#fff"/></g>
<g transform="translate(73.9 159.4) scale(1 1.06)"><text class="tk" x="0" y="0">0.9</text></g>
<g transform="translate(73.9 272.5) scale(1 1.06)"><text class="tk" x="0" y="0">0.8</text></g>
<g transform="translate(73.9 383.6) scale(1 1.06)"><text class="tk" x="0" y="0">0.7</text></g>
<g transform="translate(73.9 493.4) scale(1 1.06)"><text class="tk" x="0" y="0">0.6</text></g>
<g transform="translate(73.9 607.2) scale(1 1.06)"><text class="tk" x="0" y="0">0.5</text></g>
<g transform="translate(73.9 716.8) scale(1 1.06)"><text class="tk" x="0" y="0">0.4</text></g>
<g transform="translate(73.9 828.1) scale(1 1.06)"><text class="tk" x="0" y="0">0.3</text></g>
<g transform="translate(73.9 937.9) scale(1 1.06)"><text class="tk" x="0" y="0">0.2</text></g>
<g transform="translate(73.9 1050.8) scale(1 1.06)"><text class="tk" x="0" y="0">0.1</text><rect x="37.3" y="-4.6" width="9.2" height="6.2" fill="#fff"/><rect x="51.1" y="-4.6" width="8.8" height="6.2" fill="#fff"/></g>
<g transform="translate(110 1161.3) scale(1 1.06)"><text class="tk" x="0" y="0">0</text></g>
<text class="lb" x="854.6" y="1267.4" text-anchor="middle">time step</text>
<text class="lb" transform="translate(48.3 584) rotate(-90)" text-anchor="middle">mass value m(.)</text>
</g>
</svg>
</body></html>
